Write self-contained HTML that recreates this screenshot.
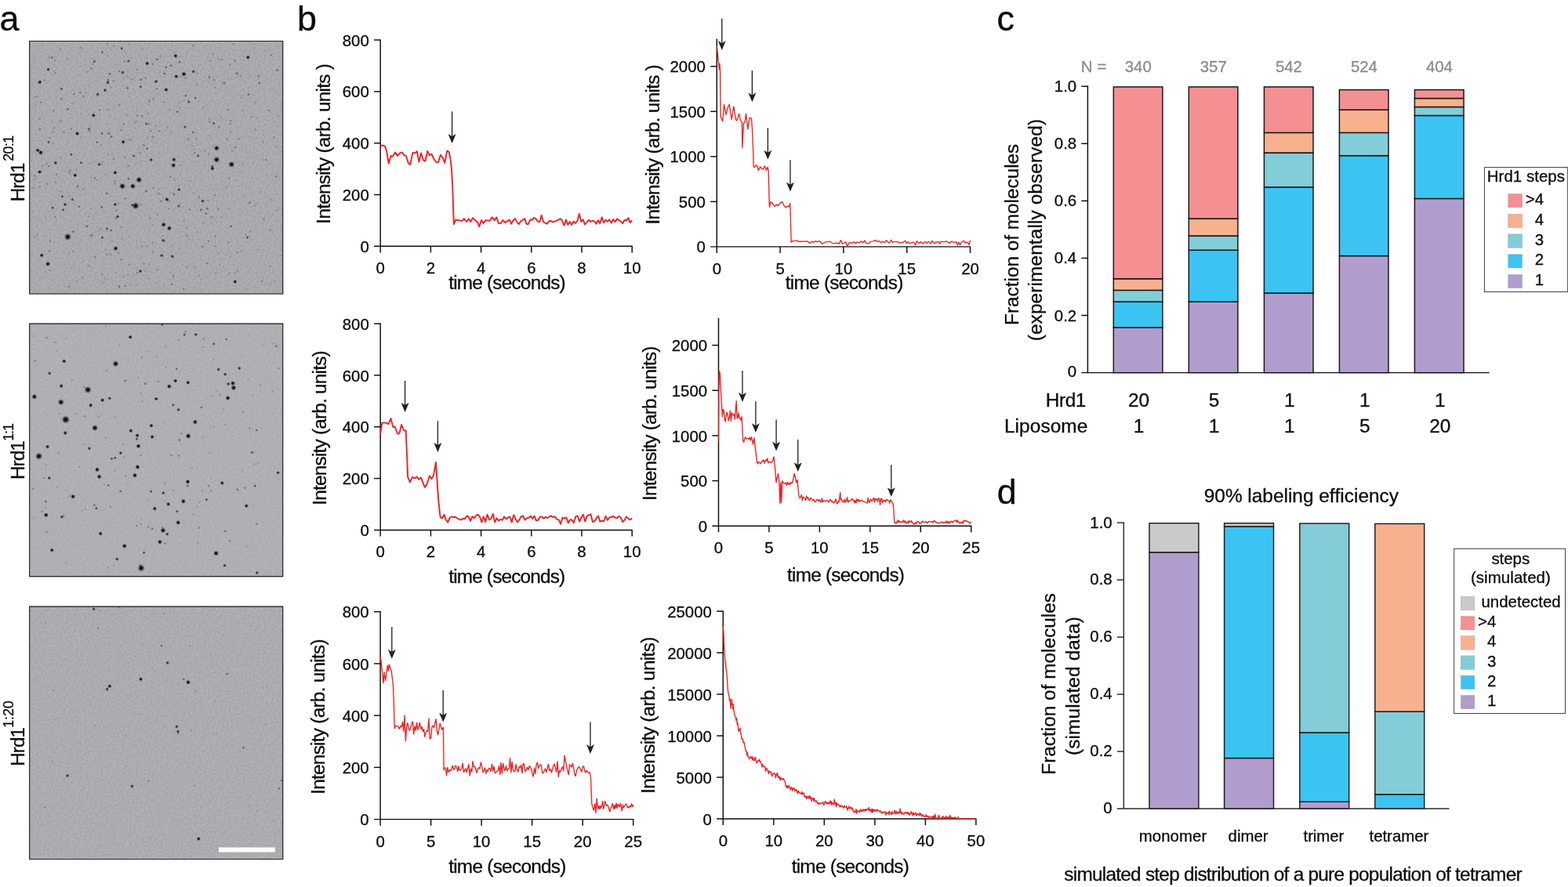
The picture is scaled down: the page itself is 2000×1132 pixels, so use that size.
<!DOCTYPE html>
<html lang="en"><head><meta charset="utf-8"><title>Figure</title>
<style>
html,body{margin:0;padding:0;background:#fff;}
body{width:2000px;height:1132px;overflow:hidden;}
svg{display:block;font-family:"Liberation Sans",sans-serif;font-kerning:none;}
text{white-space:pre;fill:#0c0c0c;stroke:#0c0c0c;stroke-width:0.3px;}
</style></head><body>
<svg width="2000" height="1132" viewBox="0 0 2000 1132">
<rect width="2000" height="1132" fill="#ffffff"/>
<text x="-0.60" y="38.70" font-size="44.9">a</text>
<text x="379.10" y="38.70" font-size="44.9">b</text>
<text x="1271.40" y="38.70" font-size="44.9">c</text>
<text x="1271.70" y="642.80" font-size="44.9">d</text>
<defs>
<filter id="noise" x="0" y="0" width="100%" height="100%" color-interpolation-filters="sRGB">
<feTurbulence type="fractalNoise" baseFrequency="0.38" numOctaves="2" seed="3" result="n"/>
<feColorMatrix in="n" type="matrix" values="0 0 0 0 0  0 0 0 0 0  0 0 0 0 0  0.9 0 0 0 -0.33"/>
<feGaussianBlur stdDeviation="0.7"/>
<feComposite in2="SourceGraphic" operator="in"/>
</filter>
<radialGradient id="dg"><stop offset="0" stop-color="#0e0e12" stop-opacity="1"/><stop offset="0.3" stop-color="#0e0e12" stop-opacity="0.97"/><stop offset="0.55" stop-color="#0e0e12" stop-opacity="0.6"/><stop offset="0.78" stop-color="#0e0e12" stop-opacity="0.18"/><stop offset="1" stop-color="#0e0e12" stop-opacity="0"/></radialGradient>
</defs>
<g id="micrograph1">
<rect x="37.1" y="51.9" width="324.20" height="323.70" fill="#aeafb3"/>
<rect x="37.1" y="51.9" width="324.20" height="323.70" fill="#5a5b60" filter="url(#noise)" opacity="0.24"/>
<clipPath id="cp0"><rect x="37.1" y="51.9" width="324.20" height="323.70"/></clipPath>
<g clip-path="url(#cp0)" fill="url(#dg)">
<circle cx="155.1" cy="61.7" r="2.22" opacity="0.65"/>
<circle cx="130.5" cy="66.6" r="1.99" opacity="0.5"/>
<circle cx="66.3" cy="73.5" r="1.99" opacity="0.5"/>
<circle cx="120.3" cy="78.5" r="2.22" opacity="0.65"/>
<circle cx="163.8" cy="77.9" r="2.22" opacity="0.65"/>
<circle cx="158.6" cy="78.5" r="1.83" opacity="0.35"/>
<circle cx="187.7" cy="80.9" r="2.87" opacity="0.95"/>
<circle cx="194.8" cy="81.8" r="1.83" opacity="0.35"/>
<circle cx="61.5" cy="88.6" r="2.51" opacity="0.8"/>
<circle cx="70.6" cy="93.2" r="1.83" opacity="0.35"/>
<circle cx="116.4" cy="87.3" r="1.83" opacity="0.35"/>
<circle cx="156.5" cy="92.6" r="2.51" opacity="0.8"/>
<circle cx="151.9" cy="91.1" r="1.83" opacity="0.35"/>
<circle cx="139.8" cy="94.2" r="1.99" opacity="0.5"/>
<circle cx="174.8" cy="88.9" r="1.83" opacity="0.35"/>
<circle cx="50.9" cy="104.7" r="2.87" opacity="0.95"/>
<circle cx="137.9" cy="102.1" r="1.99" opacity="0.5"/>
<circle cx="137.5" cy="105.4" r="2.51" opacity="0.8"/>
<circle cx="144.8" cy="103.1" r="1.83" opacity="0.35"/>
<circle cx="179.7" cy="101.7" r="1.99" opacity="0.5"/>
<circle cx="185.8" cy="99.5" r="1.83" opacity="0.35"/>
<circle cx="198.4" cy="104.2" r="2.22" opacity="0.65"/>
<circle cx="78.4" cy="113.5" r="2.22" opacity="0.65"/>
<circle cx="134.0" cy="115.1" r="2.51" opacity="0.8"/>
<circle cx="162.7" cy="112.5" r="1.99" opacity="0.5"/>
<circle cx="179.3" cy="110.8" r="2.22" opacity="0.65"/>
<circle cx="124.6" cy="120.4" r="2.51" opacity="0.8"/>
<circle cx="94.5" cy="120.1" r="1.83" opacity="0.35"/>
<circle cx="102.3" cy="117.8" r="1.83" opacity="0.35"/>
<circle cx="110.0" cy="118.4" r="1.76" opacity="0.26"/>
<circle cx="47.3" cy="122.8" r="1.83" opacity="0.35"/>
<circle cx="52.0" cy="130.6" r="1.83" opacity="0.35"/>
<circle cx="78.1" cy="126.4" r="1.83" opacity="0.35"/>
<circle cx="190.8" cy="129.3" r="1.83" opacity="0.35"/>
<circle cx="195.6" cy="126.4" r="1.83" opacity="0.35"/>
<circle cx="86.4" cy="139.3" r="1.99" opacity="0.5"/>
<circle cx="126.9" cy="140.4" r="1.83" opacity="0.35"/>
<circle cx="119.3" cy="147.2" r="2.87" opacity="0.95"/>
<circle cx="175.1" cy="147.5" r="1.83" opacity="0.35"/>
<circle cx="50.6" cy="151.9" r="1.76" opacity="0.26"/>
<circle cx="186.5" cy="158.0" r="2.22" opacity="0.65"/>
<circle cx="190.1" cy="157.9" r="1.83" opacity="0.35"/>
<circle cx="157.6" cy="158.2" r="1.83" opacity="0.35"/>
<circle cx="50.9" cy="165.1" r="1.83" opacity="0.35"/>
<circle cx="90.7" cy="164.8" r="1.83" opacity="0.35"/>
<circle cx="113.6" cy="164.6" r="2.22" opacity="0.65"/>
<circle cx="114.3" cy="167.2" r="1.83" opacity="0.35"/>
<circle cx="98.5" cy="170.4" r="2.87" opacity="0.95"/>
<circle cx="130.3" cy="170.2" r="1.99" opacity="0.5"/>
<circle cx="138.9" cy="170.4" r="1.99" opacity="0.5"/>
<circle cx="142.2" cy="174.4" r="1.99" opacity="0.5"/>
<circle cx="154.6" cy="165.9" r="1.83" opacity="0.35"/>
<circle cx="62.0" cy="181.4" r="2.22" opacity="0.65"/>
<circle cx="123.7" cy="181.5" r="1.99" opacity="0.5"/>
<circle cx="157.2" cy="181.2" r="2.87" opacity="0.95"/>
<circle cx="166.5" cy="178.4" r="1.83" opacity="0.35"/>
<circle cx="194.4" cy="174.8" r="1.83" opacity="0.35"/>
<circle cx="183.4" cy="185.5" r="1.83" opacity="0.35"/>
<circle cx="187.7" cy="189.7" r="1.99" opacity="0.5"/>
<circle cx="48.2" cy="191.8" r="2.87" opacity="0.95"/>
<circle cx="52.0" cy="194.7" r="3.29"/>
<circle cx="90.7" cy="197.3" r="2.22" opacity="0.65"/>
<circle cx="170.8" cy="199.0" r="2.22" opacity="0.65"/>
<circle cx="192.7" cy="204.0" r="2.51" opacity="0.8"/>
<circle cx="70.9" cy="208.0" r="2.51" opacity="0.8"/>
<circle cx="103.5" cy="207.7" r="2.22" opacity="0.65"/>
<circle cx="126.4" cy="209.8" r="2.51" opacity="0.8"/>
<circle cx="54.5" cy="211.6" r="1.83" opacity="0.35"/>
<circle cx="62.5" cy="211.9" r="1.83" opacity="0.35"/>
<circle cx="144.8" cy="202.7" r="1.83" opacity="0.35"/>
<circle cx="76.8" cy="62.7" r="1.76" opacity="0.26"/>
<circle cx="137.2" cy="55.6" r="1.76" opacity="0.26"/>
<circle cx="181.3" cy="62.3" r="1.76" opacity="0.26"/>
<circle cx="163.7" cy="211.3" r="1.83" opacity="0.35"/>
<circle cx="77.1" cy="200.8" r="1.76" opacity="0.26"/>
<circle cx="224.0" cy="71.3" r="2.87" opacity="0.95"/>
<circle cx="316.3" cy="73.2" r="2.87" opacity="0.95"/>
<circle cx="229.1" cy="79.2" r="1.99" opacity="0.5"/>
<circle cx="217.9" cy="83.8" r="1.99" opacity="0.5"/>
<circle cx="211.9" cy="85.9" r="1.99" opacity="0.5"/>
<circle cx="200.4" cy="76.0" r="1.99" opacity="0.5"/>
<circle cx="246.2" cy="58.4" r="1.83" opacity="0.35"/>
<circle cx="282.7" cy="75.6" r="1.83" opacity="0.35"/>
<circle cx="278.1" cy="74.9" r="1.76" opacity="0.26"/>
<circle cx="271.6" cy="69.2" r="1.76" opacity="0.26"/>
<circle cx="345.7" cy="70.6" r="1.83" opacity="0.35"/>
<circle cx="353.6" cy="89.5" r="1.99" opacity="0.5"/>
<circle cx="234.5" cy="94.5" r="3.29"/>
<circle cx="246.7" cy="91.4" r="2.51" opacity="0.8"/>
<circle cx="224.8" cy="97.5" r="2.87" opacity="0.95"/>
<circle cx="209.7" cy="93.9" r="1.99" opacity="0.5"/>
<circle cx="302.3" cy="93.8" r="1.99" opacity="0.5"/>
<circle cx="329.5" cy="97.1" r="1.83" opacity="0.35"/>
<circle cx="267.4" cy="98.9" r="1.83" opacity="0.35"/>
<circle cx="272.7" cy="101.8" r="1.83" opacity="0.35"/>
<circle cx="286.0" cy="105.7" r="1.99" opacity="0.5"/>
<circle cx="330.9" cy="106.0" r="1.99" opacity="0.5"/>
<circle cx="250.9" cy="106.8" r="1.76" opacity="0.26"/>
<circle cx="199.7" cy="103.8" r="2.22" opacity="0.65"/>
<circle cx="211.9" cy="114.5" r="2.87" opacity="0.95"/>
<circle cx="199.7" cy="113.3" r="1.83" opacity="0.35"/>
<circle cx="236.9" cy="122.0" r="1.99" opacity="0.5"/>
<circle cx="249.4" cy="125.0" r="1.99" opacity="0.5"/>
<circle cx="240.8" cy="130.0" r="2.22" opacity="0.65"/>
<circle cx="317.1" cy="120.4" r="1.99" opacity="0.5"/>
<circle cx="209.0" cy="130.6" r="1.76" opacity="0.26"/>
<circle cx="225.9" cy="142.7" r="1.99" opacity="0.5"/>
<circle cx="216.5" cy="139.6" r="1.76" opacity="0.26"/>
<circle cx="258.8" cy="137.6" r="1.76" opacity="0.26"/>
<circle cx="290.6" cy="139.7" r="1.83" opacity="0.35"/>
<circle cx="309.5" cy="141.0" r="1.76" opacity="0.26"/>
<circle cx="342.8" cy="141.0" r="1.83" opacity="0.35"/>
<circle cx="320.4" cy="149.0" r="1.76" opacity="0.26"/>
<circle cx="267.3" cy="155.5" r="1.83" opacity="0.35"/>
<circle cx="272.6" cy="157.5" r="2.22" opacity="0.65"/>
<circle cx="294.2" cy="153.9" r="1.83" opacity="0.35"/>
<circle cx="235.9" cy="161.9" r="2.22" opacity="0.65"/>
<circle cx="279.1" cy="162.5" r="1.83" opacity="0.35"/>
<circle cx="203.3" cy="167.3" r="1.83" opacity="0.35"/>
<circle cx="246.2" cy="168.9" r="1.99" opacity="0.5"/>
<circle cx="293.5" cy="168.6" r="1.76" opacity="0.26"/>
<circle cx="240.5" cy="177.7" r="1.83" opacity="0.35"/>
<circle cx="250.2" cy="177.2" r="1.76" opacity="0.26"/>
<circle cx="289.2" cy="177.2" r="1.76" opacity="0.26"/>
<circle cx="304.6" cy="177.4" r="1.83" opacity="0.35"/>
<circle cx="335.7" cy="181.5" r="1.76" opacity="0.26"/>
<circle cx="352.8" cy="186.5" r="1.76" opacity="0.26"/>
<circle cx="245.2" cy="186.2" r="1.76" opacity="0.26"/>
<circle cx="276.3" cy="189.1" r="3.78"/>
<circle cx="248.1" cy="195.1" r="1.83" opacity="0.35"/>
<circle cx="252.7" cy="199.0" r="2.22" opacity="0.65"/>
<circle cx="276.3" cy="203.7" r="4.33"/>
<circle cx="221.9" cy="203.7" r="2.87" opacity="0.95"/>
<circle cx="221.2" cy="210.9" r="3.29"/>
<circle cx="295.3" cy="209.8" r="4.33"/>
<circle cx="339.0" cy="204.1" r="1.83" opacity="0.35"/>
<circle cx="309.2" cy="208.7" r="1.76" opacity="0.26"/>
<circle cx="270.6" cy="212.3" r="2.22" opacity="0.65"/>
<circle cx="325.7" cy="165.8" r="1.76" opacity="0.26"/>
<circle cx="299.9" cy="77.8" r="1.76" opacity="0.26"/>
<circle cx="293.5" cy="82.5" r="1.76" opacity="0.26"/>
<circle cx="50.6" cy="219.4" r="2.87" opacity="0.95"/>
<circle cx="89.5" cy="217.1" r="1.83" opacity="0.35"/>
<circle cx="95.7" cy="223.6" r="2.87" opacity="0.95"/>
<circle cx="146.9" cy="220.4" r="2.87" opacity="0.95"/>
<circle cx="177.2" cy="229.5" r="4.33"/>
<circle cx="163.9" cy="228.3" r="1.99" opacity="0.5"/>
<circle cx="156.1" cy="237.6" r="4.33"/>
<circle cx="169.4" cy="237.6" r="3.78"/>
<circle cx="146.6" cy="231.2" r="1.83" opacity="0.35"/>
<circle cx="146.6" cy="234.5" r="1.83" opacity="0.35"/>
<circle cx="72.1" cy="222.6" r="1.83" opacity="0.35"/>
<circle cx="120.7" cy="227.2" r="1.83" opacity="0.35"/>
<circle cx="70.9" cy="232.6" r="1.76" opacity="0.26"/>
<circle cx="99.0" cy="237.9" r="1.99" opacity="0.5"/>
<circle cx="106.4" cy="240.9" r="1.83" opacity="0.35"/>
<circle cx="42.7" cy="240.2" r="1.76" opacity="0.26"/>
<circle cx="186.5" cy="244.3" r="1.99" opacity="0.5"/>
<circle cx="195.9" cy="240.0" r="1.83" opacity="0.35"/>
<circle cx="136.2" cy="246.9" r="1.99" opacity="0.5"/>
<circle cx="79.5" cy="250.8" r="2.22" opacity="0.65"/>
<circle cx="92.4" cy="254.5" r="2.22" opacity="0.65"/>
<circle cx="83.1" cy="260.9" r="2.51" opacity="0.8"/>
<circle cx="67.1" cy="265.1" r="2.22" opacity="0.65"/>
<circle cx="80.6" cy="267.8" r="2.22" opacity="0.65"/>
<circle cx="100.7" cy="263.7" r="1.99" opacity="0.5"/>
<circle cx="129.7" cy="264.4" r="1.99" opacity="0.5"/>
<circle cx="146.9" cy="260.8" r="2.51" opacity="0.8"/>
<circle cx="173.0" cy="262.7" r="4.95"/>
<circle cx="168.7" cy="261.7" r="2.22" opacity="0.65"/>
<circle cx="179.4" cy="260.8" r="1.83" opacity="0.35"/>
<circle cx="148.6" cy="268.8" r="1.83" opacity="0.35"/>
<circle cx="150.1" cy="276.5" r="2.51" opacity="0.8"/>
<circle cx="147.9" cy="278.7" r="1.83" opacity="0.35"/>
<circle cx="70.2" cy="277.0" r="1.83" opacity="0.35"/>
<circle cx="111.0" cy="288.6" r="1.99" opacity="0.5"/>
<circle cx="136.5" cy="292.0" r="2.22" opacity="0.65"/>
<circle cx="141.8" cy="293.9" r="1.99" opacity="0.5"/>
<circle cx="128.2" cy="292.0" r="1.76" opacity="0.26"/>
<circle cx="154.6" cy="289.8" r="1.76" opacity="0.26"/>
<circle cx="93.5" cy="295.6" r="1.99" opacity="0.5"/>
<circle cx="86.4" cy="302.3" r="4.95"/>
<circle cx="116.7" cy="300.4" r="1.99" opacity="0.5"/>
<circle cx="130.5" cy="303.2" r="2.22" opacity="0.65"/>
<circle cx="63.9" cy="308.0" r="1.83" opacity="0.35"/>
<circle cx="147.6" cy="317.0" r="3.29"/>
<circle cx="62.8" cy="320.3" r="1.83" opacity="0.35"/>
<circle cx="53.2" cy="325.8" r="2.87" opacity="0.95"/>
<circle cx="61.0" cy="336.8" r="3.29"/>
<circle cx="121.0" cy="328.3" r="1.83" opacity="0.35"/>
<circle cx="154.3" cy="331.3" r="1.83" opacity="0.35"/>
<circle cx="136.2" cy="324.9" r="1.76" opacity="0.26"/>
<circle cx="179.1" cy="346.1" r="2.51" opacity="0.8"/>
<circle cx="175.1" cy="348.1" r="1.83" opacity="0.35"/>
<circle cx="164.8" cy="337.4" r="1.76" opacity="0.26"/>
<circle cx="183.7" cy="336.6" r="1.76" opacity="0.26"/>
<circle cx="152.2" cy="365.7" r="1.99" opacity="0.5"/>
<circle cx="160.1" cy="365.0" r="1.83" opacity="0.35"/>
<circle cx="88.2" cy="365.7" r="1.83" opacity="0.35"/>
<circle cx="130.7" cy="350.4" r="1.76" opacity="0.26"/>
<circle cx="63.5" cy="345.2" r="1.76" opacity="0.26"/>
<circle cx="194.4" cy="309.9" r="1.76" opacity="0.26"/>
<circle cx="195.1" cy="321.3" r="1.76" opacity="0.26"/>
<circle cx="113.1" cy="339.2" r="1.76" opacity="0.26"/>
<circle cx="271.0" cy="215.1" r="2.87" opacity="0.95"/>
<circle cx="228.3" cy="241.9" r="2.51" opacity="0.8"/>
<circle cx="217.2" cy="225.7" r="1.83" opacity="0.35"/>
<circle cx="292.0" cy="227.2" r="1.83" opacity="0.35"/>
<circle cx="352.1" cy="225.4" r="1.83" opacity="0.35"/>
<circle cx="242.6" cy="231.2" r="1.76" opacity="0.26"/>
<circle cx="222.6" cy="230.0" r="1.76" opacity="0.26"/>
<circle cx="202.6" cy="246.9" r="1.83" opacity="0.35"/>
<circle cx="221.9" cy="247.9" r="1.99" opacity="0.5"/>
<circle cx="212.9" cy="254.5" r="2.87" opacity="0.95"/>
<circle cx="216.2" cy="256.9" r="1.83" opacity="0.35"/>
<circle cx="205.4" cy="256.9" r="1.83" opacity="0.35"/>
<circle cx="254.1" cy="251.5" r="1.83" opacity="0.35"/>
<circle cx="258.4" cy="256.6" r="2.51" opacity="0.8"/>
<circle cx="273.4" cy="249.1" r="1.76" opacity="0.26"/>
<circle cx="318.5" cy="258.7" r="1.99" opacity="0.5"/>
<circle cx="227.9" cy="263.1" r="2.22" opacity="0.65"/>
<circle cx="215.9" cy="266.7" r="1.76" opacity="0.26"/>
<circle cx="241.9" cy="267.4" r="1.83" opacity="0.35"/>
<circle cx="256.2" cy="267.7" r="1.99" opacity="0.5"/>
<circle cx="264.5" cy="266.5" r="1.99" opacity="0.5"/>
<circle cx="278.4" cy="266.7" r="1.83" opacity="0.35"/>
<circle cx="263.0" cy="272.7" r="1.99" opacity="0.5"/>
<circle cx="269.1" cy="277.0" r="1.83" opacity="0.35"/>
<circle cx="282.7" cy="277.0" r="1.76" opacity="0.26"/>
<circle cx="201.1" cy="273.8" r="1.76" opacity="0.26"/>
<circle cx="336.4" cy="279.8" r="1.83" opacity="0.35"/>
<circle cx="353.6" cy="268.4" r="1.76" opacity="0.26"/>
<circle cx="208.7" cy="286.7" r="3.29"/>
<circle cx="215.9" cy="291.3" r="3.29"/>
<circle cx="294.6" cy="288.8" r="1.99" opacity="0.5"/>
<circle cx="234.5" cy="281.5" r="1.76" opacity="0.26"/>
<circle cx="208.3" cy="306.9" r="2.51" opacity="0.8"/>
<circle cx="315.6" cy="303.0" r="2.22" opacity="0.65"/>
<circle cx="313.5" cy="299.9" r="1.76" opacity="0.26"/>
<circle cx="274.8" cy="301.6" r="1.83" opacity="0.35"/>
<circle cx="266.0" cy="307.5" r="1.83" opacity="0.35"/>
<circle cx="291.7" cy="309.5" r="1.83" opacity="0.35"/>
<circle cx="258.4" cy="314.9" r="1.83" opacity="0.35"/>
<circle cx="219.0" cy="314.2" r="1.76" opacity="0.26"/>
<circle cx="206.2" cy="326.1" r="2.51" opacity="0.8"/>
<circle cx="219.9" cy="327.3" r="2.51" opacity="0.8"/>
<circle cx="307.8" cy="319.9" r="1.76" opacity="0.26"/>
<circle cx="302.8" cy="322.8" r="1.76" opacity="0.26"/>
<circle cx="264.5" cy="336.1" r="1.83" opacity="0.35"/>
<circle cx="237.6" cy="340.7" r="1.76" opacity="0.26"/>
<circle cx="221.2" cy="352.4" r="1.83" opacity="0.35"/>
<circle cx="299.9" cy="359.5" r="2.87" opacity="0.95"/>
<circle cx="219.0" cy="362.8" r="1.83" opacity="0.35"/>
<circle cx="234.1" cy="369.0" r="1.83" opacity="0.35"/>
<circle cx="292.0" cy="348.5" r="1.76" opacity="0.26"/>
<circle cx="253.4" cy="352.1" r="1.76" opacity="0.26"/>
<circle cx="329.2" cy="318.5" r="1.76" opacity="0.26"/>
<circle cx="319.2" cy="295.6" r="1.76" opacity="0.26"/>
<circle cx="345.0" cy="294.1" r="1.76" opacity="0.26"/>
<circle cx="314.6" cy="369.3" r="1.76" opacity="0.26"/>
<circle cx="238.3" cy="290.6" r="2.08" opacity="0.24"/>
<circle cx="275.5" cy="347.9" r="1.62" opacity="0.16"/>
<circle cx="340.3" cy="261.1" r="2.14" opacity="0.1"/>
<circle cx="189.4" cy="133.2" r="1.93" opacity="0.18"/>
<circle cx="44.3" cy="123.8" r="1.77" opacity="0.24"/>
<circle cx="283.8" cy="105.6" r="2.08" opacity="0.1"/>
<circle cx="236.6" cy="95.2" r="1.6" opacity="0.23"/>
<circle cx="106.7" cy="123.4" r="2.19" opacity="0.23"/>
<circle cx="132.2" cy="360.4" r="1.92" opacity="0.2"/>
<circle cx="105.3" cy="353.8" r="2.01" opacity="0.24"/>
<circle cx="324.5" cy="149.8" r="1.82" opacity="0.11"/>
<circle cx="86.5" cy="75.6" r="1.78" opacity="0.18"/>
<circle cx="41.2" cy="270.3" r="1.8" opacity="0.13"/>
<circle cx="300.6" cy="207.6" r="1.79" opacity="0.16"/>
<circle cx="264.3" cy="73.0" r="2.19" opacity="0.08"/>
<circle cx="278.7" cy="323.3" r="1.61" opacity="0.21"/>
<circle cx="156.6" cy="238.7" r="1.61" opacity="0.09"/>
<circle cx="97.7" cy="358.4" r="1.72" opacity="0.21"/>
<circle cx="335.9" cy="354.2" r="1.81" opacity="0.14"/>
<circle cx="207.1" cy="301.3" r="1.66" opacity="0.21"/>
<circle cx="293.8" cy="328.0" r="1.62" opacity="0.24"/>
<circle cx="69.1" cy="163.2" r="1.97" opacity="0.24"/>
<circle cx="148.3" cy="348.5" r="1.93" opacity="0.13"/>
<circle cx="140.9" cy="111.3" r="1.65" opacity="0.11"/>
<circle cx="259.4" cy="371.6" r="1.7" opacity="0.09"/>
<circle cx="354.1" cy="224.4" r="1.84" opacity="0.12"/>
<circle cx="229.1" cy="317.4" r="1.87" opacity="0.15"/>
<circle cx="57.8" cy="345.9" r="1.62" opacity="0.16"/>
<circle cx="306.9" cy="96.4" r="2.04" opacity="0.24"/>
<circle cx="240.7" cy="305.3" r="1.66" opacity="0.15"/>
<circle cx="87.6" cy="323.3" r="1.78" opacity="0.16"/>
<circle cx="358.1" cy="325.7" r="2.19" opacity="0.16"/>
<circle cx="195.4" cy="286.7" r="1.89" opacity="0.13"/>
<circle cx="168.6" cy="101.4" r="1.83" opacity="0.25"/>
<circle cx="345.5" cy="254.1" r="1.9" opacity="0.14"/>
<circle cx="68.5" cy="141.4" r="2.07" opacity="0.23"/>
<circle cx="155.1" cy="304.6" r="2.06" opacity="0.2"/>
<circle cx="251.4" cy="296.2" r="1.82" opacity="0.2"/>
<circle cx="129.5" cy="209.2" r="2.06" opacity="0.2"/>
<circle cx="133.6" cy="355.3" r="1.99" opacity="0.18"/>
<circle cx="43.8" cy="228.7" r="1.75" opacity="0.19"/>
<circle cx="187.4" cy="314.4" r="1.99" opacity="0.22"/>
<circle cx="150.8" cy="259.5" r="2.04" opacity="0.22"/>
<circle cx="151.5" cy="322.7" r="2.12" opacity="0.2"/>
<circle cx="350.7" cy="358.8" r="1.91" opacity="0.17"/>
<circle cx="93.0" cy="320.7" r="2.16" opacity="0.16"/>
<circle cx="260.1" cy="283.5" r="2.04" opacity="0.11"/>
<circle cx="288.4" cy="239.4" r="2.0" opacity="0.15"/>
<circle cx="238.6" cy="301.0" r="1.98" opacity="0.2"/>
<circle cx="48.9" cy="105.7" r="1.86" opacity="0.19"/>
<circle cx="109.8" cy="272.8" r="1.98" opacity="0.09"/>
<circle cx="190.2" cy="126.8" r="1.63" opacity="0.1"/>
<circle cx="141.1" cy="112.6" r="1.72" opacity="0.09"/>
<circle cx="188.2" cy="175.7" r="1.97" opacity="0.18"/>
<circle cx="115.8" cy="341.8" r="1.6" opacity="0.15"/>
<circle cx="128.7" cy="185.2" r="1.67" opacity="0.22"/>
<circle cx="159.1" cy="66.4" r="1.97" opacity="0.1"/>
<circle cx="213.6" cy="162.7" r="1.95" opacity="0.24"/>
<circle cx="300.6" cy="188.0" r="2.09" opacity="0.19"/>
<circle cx="157.7" cy="100.0" r="1.96" opacity="0.18"/>
<circle cx="344.7" cy="362.4" r="1.97" opacity="0.14"/>
<circle cx="324.4" cy="55.2" r="1.66" opacity="0.18"/>
<circle cx="235.8" cy="99.6" r="1.98" opacity="0.23"/>
<circle cx="159.7" cy="192.0" r="1.74" opacity="0.13"/>
<circle cx="349.5" cy="175.6" r="2.18" opacity="0.24"/>
<circle cx="229.7" cy="137.4" r="2.19" opacity="0.16"/>
<circle cx="172.3" cy="156.3" r="2.19" opacity="0.16"/>
<circle cx="131.2" cy="206.4" r="1.67" opacity="0.19"/>
<circle cx="181.2" cy="148.0" r="2.07" opacity="0.22"/>
<circle cx="44.3" cy="224.1" r="1.76" opacity="0.24"/>
<circle cx="288.9" cy="132.9" r="1.76" opacity="0.11"/>
<circle cx="354.7" cy="148.0" r="1.96" opacity="0.16"/>
<circle cx="245.3" cy="246.7" r="2.05" opacity="0.1"/>
<circle cx="282.1" cy="150.4" r="1.92" opacity="0.14"/>
<circle cx="134.5" cy="223.2" r="1.88" opacity="0.14"/>
<circle cx="277.2" cy="242.6" r="1.62" opacity="0.12"/>
<circle cx="185.1" cy="346.1" r="2.13" opacity="0.17"/>
<circle cx="44.7" cy="302.2" r="1.86" opacity="0.18"/>
<circle cx="265.4" cy="255.8" r="1.89" opacity="0.23"/>
<circle cx="162.8" cy="179.4" r="2.11" opacity="0.11"/>
<circle cx="134.4" cy="318.6" r="1.64" opacity="0.22"/>
<circle cx="261.1" cy="192.4" r="1.77" opacity="0.21"/>
<circle cx="329.9" cy="100.2" r="1.89" opacity="0.17"/>
<circle cx="198.5" cy="160.0" r="1.69" opacity="0.18"/>
<circle cx="298.4" cy="76.6" r="1.74" opacity="0.22"/>
<circle cx="292.0" cy="265.7" r="1.62" opacity="0.2"/>
<circle cx="351.5" cy="372.1" r="2.02" opacity="0.09"/>
<circle cx="308.0" cy="124.6" r="1.99" opacity="0.24"/>
<circle cx="266.8" cy="97.7" r="1.78" opacity="0.24"/>
<circle cx="87.7" cy="248.9" r="1.85" opacity="0.11"/>
<circle cx="238.1" cy="68.7" r="1.66" opacity="0.14"/>
<circle cx="63.0" cy="73.2" r="1.95" opacity="0.21"/>
<circle cx="319.6" cy="97.6" r="1.86" opacity="0.13"/>
<circle cx="231.1" cy="210.4" r="2.16" opacity="0.14"/>
<circle cx="57.8" cy="276.4" r="1.69" opacity="0.19"/>
<circle cx="201.1" cy="344.1" r="1.93" opacity="0.19"/>
<circle cx="123.9" cy="230.2" r="1.75" opacity="0.21"/>
<circle cx="204.6" cy="97.4" r="1.74" opacity="0.14"/>
<circle cx="274.5" cy="111.9" r="2.03" opacity="0.19"/>
<circle cx="67.2" cy="267.1" r="1.65" opacity="0.1"/>
<circle cx="229.1" cy="130.7" r="2.13" opacity="0.16"/>
<circle cx="143.0" cy="307.9" r="1.62" opacity="0.2"/>
<circle cx="57.2" cy="102.8" r="2.17" opacity="0.2"/>
<circle cx="111.1" cy="91.8" r="2.18" opacity="0.19"/>
<circle cx="301.2" cy="99.3" r="1.97" opacity="0.14"/>
<circle cx="114.9" cy="160.8" r="1.97" opacity="0.14"/>
<circle cx="162.8" cy="98.2" r="2.1" opacity="0.19"/>
<circle cx="296.1" cy="192.6" r="2.11" opacity="0.17"/>
<circle cx="228.7" cy="237.0" r="2.04" opacity="0.15"/>
<circle cx="71.0" cy="65.4" r="1.72" opacity="0.09"/>
<circle cx="323.1" cy="207.7" r="2.06" opacity="0.08"/>
<circle cx="189.7" cy="337.6" r="1.97" opacity="0.15"/>
<circle cx="188.2" cy="86.6" r="1.69" opacity="0.11"/>
<circle cx="159.3" cy="177.4" r="2.13" opacity="0.11"/>
<circle cx="120.9" cy="143.0" r="1.7" opacity="0.13"/>
<circle cx="114.9" cy="208.0" r="1.62" opacity="0.24"/>
<circle cx="157.5" cy="352.9" r="2.01" opacity="0.19"/>
<circle cx="190.2" cy="355.3" r="1.67" opacity="0.19"/>
<circle cx="132.7" cy="269.2" r="2.04" opacity="0.11"/>
<circle cx="104.1" cy="62.8" r="1.74" opacity="0.09"/>
<circle cx="167.7" cy="364.2" r="1.82" opacity="0.13"/>
<circle cx="189.0" cy="144.9" r="2.04" opacity="0.2"/>
<circle cx="92.1" cy="131.3" r="2.0" opacity="0.24"/>
<circle cx="245.6" cy="191.7" r="2.19" opacity="0.08"/>
<circle cx="59.5" cy="302.5" r="1.85" opacity="0.09"/>
<circle cx="214.6" cy="369.3" r="1.91" opacity="0.14"/>
<circle cx="70.0" cy="77.5" r="2.14" opacity="0.16"/>
<circle cx="337.9" cy="72.0" r="1.75" opacity="0.09"/>
<circle cx="166.5" cy="74.0" r="1.75" opacity="0.15"/>
<circle cx="137.5" cy="71.2" r="1.62" opacity="0.25"/>
<circle cx="97.2" cy="216.5" r="1.84" opacity="0.17"/>
<circle cx="66.9" cy="154.6" r="1.66" opacity="0.17"/>
<circle cx="333.3" cy="245.0" r="2.11" opacity="0.12"/>
<circle cx="45.6" cy="226.3" r="1.89" opacity="0.18"/>
<circle cx="159.9" cy="253.5" r="2.04" opacity="0.24"/>
<circle cx="138.0" cy="197.6" r="2.1" opacity="0.12"/>
<circle cx="76.9" cy="153.9" r="1.65" opacity="0.21"/>
<circle cx="300.8" cy="154.3" r="1.68" opacity="0.09"/>
<circle cx="118.0" cy="81.7" r="1.86" opacity="0.18"/>
<circle cx="118.2" cy="74.4" r="2.02" opacity="0.09"/>
<circle cx="103.7" cy="145.8" r="1.82" opacity="0.1"/>
<circle cx="173.9" cy="154.6" r="2.05" opacity="0.17"/>
<circle cx="325.2" cy="262.7" r="2.06" opacity="0.18"/>
<circle cx="180.8" cy="314.4" r="1.99" opacity="0.24"/>
<circle cx="271.8" cy="277.7" r="1.76" opacity="0.22"/>
<circle cx="161.8" cy="96.3" r="1.64" opacity="0.11"/>
<circle cx="123.7" cy="269.6" r="1.77" opacity="0.09"/>
<circle cx="283.1" cy="231.9" r="1.62" opacity="0.09"/>
<circle cx="81.5" cy="168.4" r="2.12" opacity="0.24"/>
<circle cx="234.8" cy="128.3" r="1.86" opacity="0.14"/>
<circle cx="145.2" cy="58.9" r="1.95" opacity="0.22"/>
<circle cx="271.4" cy="85.2" r="1.92" opacity="0.11"/>
<circle cx="265.8" cy="196.7" r="2.16" opacity="0.22"/>
<circle cx="77.7" cy="155.6" r="2.15" opacity="0.16"/>
<circle cx="178.2" cy="195.1" r="2.06" opacity="0.24"/>
<circle cx="209.6" cy="363.0" r="1.96" opacity="0.1"/>
<circle cx="299.2" cy="188.2" r="1.63" opacity="0.25"/>
<circle cx="50.6" cy="238.2" r="1.89" opacity="0.23"/>
<circle cx="165.1" cy="123.4" r="1.77" opacity="0.11"/>
<circle cx="219.1" cy="168.3" r="2.05" opacity="0.12"/>
<circle cx="152.0" cy="133.8" r="2.19" opacity="0.22"/>
<circle cx="310.5" cy="251.3" r="1.84" opacity="0.1"/>
<circle cx="304.7" cy="210.6" r="1.62" opacity="0.11"/>
<circle cx="71.5" cy="282.9" r="2.14" opacity="0.11"/>
<circle cx="293.7" cy="157.9" r="2.01" opacity="0.23"/>
<circle cx="238.4" cy="309.2" r="1.83" opacity="0.08"/>
<circle cx="202.9" cy="241.3" r="1.71" opacity="0.15"/>
<circle cx="141.0" cy="63.5" r="1.79" opacity="0.15"/>
<circle cx="191.6" cy="278.4" r="1.84" opacity="0.25"/>
<circle cx="299.6" cy="348.4" r="2.02" opacity="0.19"/>
<circle cx="210.9" cy="308.6" r="1.82" opacity="0.18"/>
<circle cx="256.3" cy="220.8" r="1.77" opacity="0.09"/>
<circle cx="67.9" cy="168.0" r="1.95" opacity="0.21"/>
<circle cx="267.4" cy="152.4" r="2.16" opacity="0.13"/>
<circle cx="268.0" cy="77.8" r="2.05" opacity="0.19"/>
<circle cx="344.6" cy="339.9" r="2.01" opacity="0.22"/>
<circle cx="275.1" cy="249.0" r="1.73" opacity="0.17"/>
<circle cx="325.2" cy="130.9" r="2.18" opacity="0.17"/>
<circle cx="165.3" cy="55.8" r="1.83" opacity="0.11"/>
<circle cx="247.9" cy="340.7" r="2.15" opacity="0.18"/>
<circle cx="163.1" cy="89.5" r="2.01" opacity="0.17"/>
<circle cx="267.7" cy="173.7" r="2.13" opacity="0.12"/>
<circle cx="137.3" cy="139.9" r="1.97" opacity="0.23"/>
<circle cx="93.4" cy="255.9" r="2.06" opacity="0.12"/>
<circle cx="60.0" cy="234.7" r="2.1" opacity="0.23"/>
<circle cx="271.8" cy="187.3" r="1.86" opacity="0.17"/>
<circle cx="328.0" cy="150.9" r="1.77" opacity="0.18"/>
<circle cx="347.7" cy="114.4" r="1.62" opacity="0.1"/>
<circle cx="219.1" cy="246.6" r="1.71" opacity="0.11"/>
<circle cx="229.3" cy="260.2" r="2.01" opacity="0.2"/>
<circle cx="59.6" cy="208.9" r="2.1" opacity="0.24"/>
<circle cx="141.4" cy="325.1" r="1.99" opacity="0.24"/>
<circle cx="113.0" cy="276.3" r="2.1" opacity="0.16"/>
<circle cx="72.2" cy="116.4" r="1.69" opacity="0.1"/>
<circle cx="88.5" cy="250.5" r="1.66" opacity="0.21"/>
<circle cx="274.4" cy="314.3" r="2.08" opacity="0.2"/>
<circle cx="334.1" cy="358.9" r="1.98" opacity="0.24"/>
<circle cx="73.0" cy="87.6" r="1.64" opacity="0.12"/>
<circle cx="159.2" cy="200.6" r="2.01" opacity="0.21"/>
<circle cx="66.8" cy="183.0" r="1.93" opacity="0.14"/>
<circle cx="77.5" cy="244.6" r="1.82" opacity="0.2"/>
<circle cx="197.8" cy="360.7" r="2.17" opacity="0.09"/>
<circle cx="281.9" cy="284.0" r="1.78" opacity="0.1"/>
<circle cx="192.5" cy="167.4" r="2.04" opacity="0.24"/>
<circle cx="161.7" cy="147.2" r="1.9" opacity="0.2"/>
<circle cx="291.2" cy="237.8" r="1.78" opacity="0.14"/>
<circle cx="309.9" cy="219.9" r="1.63" opacity="0.15"/>
<circle cx="115.8" cy="266.6" r="1.64" opacity="0.13"/>
<circle cx="70.7" cy="206.6" r="2.19" opacity="0.17"/>
<circle cx="163.0" cy="351.6" r="1.66" opacity="0.14"/>
<circle cx="298.1" cy="56.5" r="2.06" opacity="0.14"/>
<circle cx="45.3" cy="134.6" r="1.87" opacity="0.15"/>
<circle cx="204.5" cy="71.8" r="1.73" opacity="0.25"/>
<circle cx="180.9" cy="204.8" r="1.65" opacity="0.13"/>
<circle cx="343.9" cy="273.2" r="1.9" opacity="0.09"/>
<circle cx="165.1" cy="302.2" r="1.86" opacity="0.18"/>
<circle cx="327.2" cy="259.9" r="1.98" opacity="0.09"/>
<circle cx="47.7" cy="299.4" r="1.85" opacity="0.23"/>
<circle cx="302.8" cy="345.7" r="1.83" opacity="0.25"/>
<circle cx="280.7" cy="338.2" r="1.69" opacity="0.21"/>
<circle cx="174.4" cy="363.7" r="2.2" opacity="0.12"/>
<circle cx="174.2" cy="141.0" r="1.88" opacity="0.13"/>
<circle cx="252.2" cy="94.1" r="1.7" opacity="0.16"/>
<circle cx="63.6" cy="176.0" r="2.14" opacity="0.23"/>
<circle cx="102.6" cy="60.8" r="2.1" opacity="0.24"/>
<circle cx="230.7" cy="98.2" r="1.74" opacity="0.24"/>
<circle cx="338.4" cy="64.8" r="1.71" opacity="0.15"/>
<circle cx="125.0" cy="294.4" r="1.82" opacity="0.21"/>
<circle cx="88.5" cy="219.6" r="2.18" opacity="0.2"/>
<circle cx="68.8" cy="90.2" r="1.99" opacity="0.14"/>
</g>
<path d="M37.10 51.90H361.30V375.60H37.10Z M38.25 53.05V374.50H360.15V53.05Z" fill="#231f20" fill-rule="evenodd"/>
</g>
<g id="micrograph2">
<rect x="37.1" y="412.6" width="324.20" height="323.60" fill="#b2b3b7"/>
<rect x="37.1" y="412.6" width="324.20" height="323.60" fill="#5a5b60" filter="url(#noise)" opacity="0.14"/>
<clipPath id="cp1"><rect x="37.1" y="412.6" width="324.20" height="323.60"/></clipPath>
<g clip-path="url(#cp1)" fill="url(#dg)">
<circle cx="166.2" cy="430.2" r="2.87" opacity="0.95"/>
<circle cx="59.5" cy="430.9" r="1.83" opacity="0.35"/>
<circle cx="81.7" cy="460.9" r="2.87" opacity="0.95"/>
<circle cx="44.9" cy="460.5" r="1.83" opacity="0.35"/>
<circle cx="147.5" cy="464.2" r="4.33"/>
<circle cx="63.2" cy="476.4" r="2.51" opacity="0.8"/>
<circle cx="159.8" cy="486.0" r="1.99" opacity="0.5"/>
<circle cx="185.3" cy="489.7" r="1.99" opacity="0.5"/>
<circle cx="91.7" cy="485.3" r="1.76" opacity="0.26"/>
<circle cx="78.2" cy="492.6" r="2.87" opacity="0.95"/>
<circle cx="112.1" cy="497.4" r="4.95"/>
<circle cx="107.1" cy="494.1" r="1.83" opacity="0.35"/>
<circle cx="43.9" cy="506.3" r="3.78"/>
<circle cx="77.8" cy="513.2" r="4.33"/>
<circle cx="130.7" cy="510.7" r="2.87" opacity="0.95"/>
<circle cx="139.8" cy="508.3" r="2.51" opacity="0.8"/>
<circle cx="115.7" cy="517.2" r="2.87" opacity="0.95"/>
<circle cx="198.4" cy="508.9" r="2.22" opacity="0.65"/>
<circle cx="181.5" cy="512.2" r="1.76" opacity="0.26"/>
<circle cx="83.8" cy="535.5" r="5.63"/>
<circle cx="108.3" cy="531.1" r="1.83" opacity="0.35"/>
<circle cx="96.4" cy="527.9" r="1.76" opacity="0.26"/>
<circle cx="126.4" cy="531.2" r="1.76" opacity="0.26"/>
<circle cx="121.1" cy="546.1" r="4.33"/>
<circle cx="83.2" cy="552.5" r="2.87" opacity="0.95"/>
<circle cx="166.9" cy="549.7" r="2.87" opacity="0.95"/>
<circle cx="193.0" cy="543.2" r="2.87" opacity="0.95"/>
<circle cx="175.1" cy="555.7" r="2.87" opacity="0.95"/>
<circle cx="174.4" cy="560.1" r="2.22" opacity="0.65"/>
<circle cx="194.1" cy="557.5" r="2.87" opacity="0.95"/>
<circle cx="176.5" cy="569.3" r="3.29"/>
<circle cx="60.6" cy="570.1" r="2.87" opacity="0.95"/>
<circle cx="114.0" cy="572.3" r="2.51" opacity="0.8"/>
<circle cx="106.4" cy="567.1" r="1.76" opacity="0.26"/>
<circle cx="180.8" cy="455.9" r="1.76" opacity="0.26"/>
<circle cx="71.3" cy="437.3" r="1.73" opacity="0.2"/>
<circle cx="72.1" cy="447.8" r="1.73" opacity="0.2"/>
<circle cx="146.9" cy="532.5" r="1.73" opacity="0.2"/>
<circle cx="75.6" cy="528.2" r="1.73" opacity="0.2"/>
<circle cx="206.9" cy="414.4" r="2.22" opacity="0.65"/>
<circle cx="235.2" cy="427.0" r="2.22" opacity="0.65"/>
<circle cx="236.9" cy="423.4" r="1.83" opacity="0.35"/>
<circle cx="249.7" cy="426.9" r="2.51" opacity="0.8"/>
<circle cx="259.4" cy="432.3" r="1.83" opacity="0.35"/>
<circle cx="272.8" cy="438.8" r="2.22" opacity="0.65"/>
<circle cx="288.7" cy="433.0" r="1.99" opacity="0.5"/>
<circle cx="227.6" cy="434.0" r="1.76" opacity="0.26"/>
<circle cx="352.4" cy="441.9" r="1.99" opacity="0.5"/>
<circle cx="348.5" cy="438.5" r="1.73" opacity="0.2"/>
<circle cx="225.2" cy="470.7" r="1.99" opacity="0.5"/>
<circle cx="278.7" cy="471.5" r="2.51" opacity="0.8"/>
<circle cx="305.3" cy="470.0" r="2.51" opacity="0.8"/>
<circle cx="287.2" cy="477.7" r="2.51" opacity="0.8"/>
<circle cx="356.0" cy="470.0" r="1.76" opacity="0.26"/>
<circle cx="223.8" cy="486.0" r="2.87" opacity="0.95"/>
<circle cx="239.8" cy="488.3" r="2.87" opacity="0.95"/>
<circle cx="215.9" cy="493.1" r="3.29"/>
<circle cx="201.9" cy="486.7" r="1.83" opacity="0.35"/>
<circle cx="291.3" cy="490.0" r="2.51" opacity="0.8"/>
<circle cx="297.0" cy="489.1" r="3.29"/>
<circle cx="298.0" cy="494.9" r="3.78"/>
<circle cx="332.1" cy="491.0" r="1.76" opacity="0.26"/>
<circle cx="316.6" cy="483.8" r="1.73" opacity="0.2"/>
<circle cx="290.6" cy="507.9" r="3.29"/>
<circle cx="280.3" cy="503.9" r="1.76" opacity="0.26"/>
<circle cx="199.7" cy="509.2" r="2.51" opacity="0.8"/>
<circle cx="220.9" cy="516.8" r="2.22" opacity="0.65"/>
<circle cx="227.6" cy="522.8" r="2.51" opacity="0.8"/>
<circle cx="257.0" cy="520.0" r="1.99" opacity="0.5"/>
<circle cx="309.9" cy="526.1" r="1.83" opacity="0.35"/>
<circle cx="248.9" cy="538.5" r="3.29"/>
<circle cx="318.5" cy="546.8" r="1.83" opacity="0.35"/>
<circle cx="327.4" cy="549.0" r="1.99" opacity="0.5"/>
<circle cx="240.1" cy="556.5" r="3.78"/>
<circle cx="231.6" cy="553.2" r="1.83" opacity="0.35"/>
<circle cx="228.8" cy="561.5" r="1.99" opacity="0.5"/>
<circle cx="287.0" cy="542.2" r="1.73" opacity="0.2"/>
<circle cx="272.7" cy="544.9" r="1.73" opacity="0.2"/>
<circle cx="200.1" cy="454.9" r="1.76" opacity="0.26"/>
<circle cx="322.1" cy="504.6" r="1.73" opacity="0.2"/>
<circle cx="211.9" cy="469.1" r="1.73" opacity="0.2"/>
<circle cx="270.6" cy="505.3" r="1.73" opacity="0.2"/>
<circle cx="259.1" cy="443.1" r="1.73" opacity="0.2"/>
<circle cx="49.6" cy="582.2" r="4.95"/>
<circle cx="153.9" cy="578.1" r="2.51" opacity="0.8"/>
<circle cx="146.8" cy="584.4" r="2.22" opacity="0.65"/>
<circle cx="142.5" cy="585.3" r="2.22" opacity="0.65"/>
<circle cx="179.4" cy="581.0" r="1.83" opacity="0.35"/>
<circle cx="175.5" cy="596.0" r="3.29"/>
<circle cx="124.0" cy="599.3" r="3.29"/>
<circle cx="126.6" cy="608.3" r="3.29"/>
<circle cx="172.0" cy="606.6" r="3.29"/>
<circle cx="160.1" cy="607.6" r="1.83" opacity="0.35"/>
<circle cx="62.8" cy="610.1" r="2.51" opacity="0.8"/>
<circle cx="56.3" cy="610.1" r="1.83" opacity="0.35"/>
<circle cx="58.9" cy="593.6" r="1.76" opacity="0.26"/>
<circle cx="101.0" cy="595.8" r="1.76" opacity="0.26"/>
<circle cx="138.3" cy="619.4" r="1.99" opacity="0.5"/>
<circle cx="132.9" cy="617.9" r="1.76" opacity="0.26"/>
<circle cx="153.6" cy="626.9" r="1.99" opacity="0.5"/>
<circle cx="192.6" cy="627.2" r="2.22" opacity="0.65"/>
<circle cx="42.4" cy="623.7" r="1.83" opacity="0.35"/>
<circle cx="72.8" cy="621.1" r="1.73" opacity="0.2"/>
<circle cx="93.1" cy="633.7" r="3.29"/>
<circle cx="88.2" cy="633.4" r="1.76" opacity="0.26"/>
<circle cx="58.2" cy="640.1" r="1.99" opacity="0.5"/>
<circle cx="120.4" cy="644.6" r="1.99" opacity="0.5"/>
<circle cx="122.9" cy="648.8" r="2.22" opacity="0.65"/>
<circle cx="140.8" cy="646.7" r="1.83" opacity="0.35"/>
<circle cx="197.3" cy="649.1" r="2.87" opacity="0.95"/>
<circle cx="53.5" cy="652.9" r="1.83" opacity="0.35"/>
<circle cx="58.8" cy="657.3" r="3.29"/>
<circle cx="78.9" cy="659.7" r="2.51" opacity="0.8"/>
<circle cx="81.1" cy="658.3" r="1.83" opacity="0.35"/>
<circle cx="59.6" cy="678.8" r="1.83" opacity="0.35"/>
<circle cx="128.2" cy="681.0" r="2.87" opacity="0.95"/>
<circle cx="174.4" cy="670.9" r="1.83" opacity="0.35"/>
<circle cx="179.8" cy="669.0" r="1.76" opacity="0.26"/>
<circle cx="189.4" cy="672.3" r="1.83" opacity="0.35"/>
<circle cx="194.1" cy="674.7" r="1.99" opacity="0.5"/>
<circle cx="180.5" cy="661.6" r="1.73" opacity="0.2"/>
<circle cx="158.8" cy="696.8" r="3.29"/>
<circle cx="66.2" cy="702.1" r="2.87" opacity="0.95"/>
<circle cx="183.7" cy="705.2" r="2.22" opacity="0.65"/>
<circle cx="149.3" cy="713.5" r="2.51" opacity="0.8"/>
<circle cx="180.1" cy="725.0" r="4.95"/>
<circle cx="178.7" cy="721.7" r="1.99" opacity="0.5"/>
<circle cx="84.2" cy="718.5" r="1.73" opacity="0.2"/>
<circle cx="145.0" cy="721.7" r="1.73" opacity="0.2"/>
<circle cx="137.9" cy="724.5" r="1.73" opacity="0.2"/>
<circle cx="146.5" cy="600.5" r="1.76" opacity="0.26"/>
<circle cx="188.4" cy="637.7" r="1.73" opacity="0.2"/>
<circle cx="108.6" cy="649.4" r="1.73" opacity="0.2"/>
<circle cx="104.3" cy="651.6" r="1.73" opacity="0.2"/>
<circle cx="58.2" cy="647.7" r="1.73" opacity="0.2"/>
<circle cx="321.4" cy="577.4" r="2.22" opacity="0.65"/>
<circle cx="218.7" cy="581.2" r="1.83" opacity="0.35"/>
<circle cx="228.1" cy="581.6" r="1.83" opacity="0.35"/>
<circle cx="267.4" cy="577.6" r="1.73" opacity="0.2"/>
<circle cx="244.8" cy="597.6" r="1.76" opacity="0.26"/>
<circle cx="354.7" cy="603.3" r="2.51" opacity="0.8"/>
<circle cx="239.5" cy="614.8" r="3.29"/>
<circle cx="239.5" cy="620.1" r="1.99" opacity="0.5"/>
<circle cx="283.3" cy="616.5" r="2.87" opacity="0.95"/>
<circle cx="266.0" cy="620.4" r="1.83" opacity="0.35"/>
<circle cx="325.2" cy="620.1" r="2.22" opacity="0.65"/>
<circle cx="312.5" cy="622.7" r="1.83" opacity="0.35"/>
<circle cx="302.8" cy="624.8" r="1.99" opacity="0.5"/>
<circle cx="269.1" cy="626.2" r="1.83" opacity="0.35"/>
<circle cx="258.0" cy="626.2" r="1.76" opacity="0.26"/>
<circle cx="221.5" cy="625.9" r="1.76" opacity="0.26"/>
<circle cx="210.2" cy="616.5" r="1.76" opacity="0.26"/>
<circle cx="208.3" cy="629.1" r="2.51" opacity="0.8"/>
<circle cx="233.8" cy="639.7" r="3.29"/>
<circle cx="263.4" cy="637.5" r="2.22" opacity="0.65"/>
<circle cx="254.5" cy="640.8" r="1.76" opacity="0.26"/>
<circle cx="214.7" cy="643.4" r="2.87" opacity="0.95"/>
<circle cx="314.3" cy="645.6" r="2.87" opacity="0.95"/>
<circle cx="225.9" cy="652.7" r="2.22" opacity="0.65"/>
<circle cx="251.7" cy="646.6" r="1.73" opacity="0.2"/>
<circle cx="246.9" cy="656.9" r="1.73" opacity="0.2"/>
<circle cx="227.3" cy="666.9" r="3.29"/>
<circle cx="327.4" cy="668.5" r="1.83" opacity="0.35"/>
<circle cx="207.9" cy="676.9" r="3.78"/>
<circle cx="207.3" cy="673.3" r="1.83" opacity="0.35"/>
<circle cx="213.3" cy="681.6" r="2.51" opacity="0.8"/>
<circle cx="253.8" cy="673.6" r="1.83" opacity="0.35"/>
<circle cx="287.4" cy="678.0" r="1.99" opacity="0.5"/>
<circle cx="203.9" cy="691.6" r="3.29"/>
<circle cx="210.9" cy="693.8" r="1.83" opacity="0.35"/>
<circle cx="293.2" cy="690.3" r="1.83" opacity="0.35"/>
<circle cx="252.0" cy="692.8" r="1.76" opacity="0.26"/>
<circle cx="275.6" cy="706.1" r="3.78"/>
<circle cx="286.6" cy="721.7" r="2.51" opacity="0.8"/>
<circle cx="327.8" cy="731.0" r="2.51" opacity="0.8"/>
<circle cx="314.6" cy="697.4" r="1.73" opacity="0.2"/>
<circle cx="329.9" cy="590.7" r="1.73" opacity="0.2"/>
<circle cx="324.2" cy="592.9" r="1.73" opacity="0.2"/>
<circle cx="157.4" cy="567.3" r="1.95" opacity="0.2"/>
<circle cx="116.8" cy="596.2" r="1.76" opacity="0.14"/>
<circle cx="272.8" cy="458.0" r="1.89" opacity="0.16"/>
<circle cx="42.7" cy="660.5" r="1.85" opacity="0.13"/>
<circle cx="234.4" cy="667.4" r="1.63" opacity="0.13"/>
<circle cx="52.3" cy="538.0" r="1.81" opacity="0.06"/>
<circle cx="134.8" cy="558.5" r="1.99" opacity="0.19"/>
<circle cx="158.0" cy="583.9" r="2.03" opacity="0.19"/>
<circle cx="342.3" cy="729.4" r="1.78" opacity="0.08"/>
<circle cx="336.6" cy="440.2" r="1.87" opacity="0.16"/>
<circle cx="208.3" cy="539.1" r="2.15" opacity="0.1"/>
<circle cx="215.7" cy="679.1" r="1.68" opacity="0.11"/>
<circle cx="197.4" cy="595.3" r="1.72" opacity="0.12"/>
<circle cx="59.1" cy="443.5" r="1.81" opacity="0.08"/>
<circle cx="348.0" cy="499.2" r="1.77" opacity="0.17"/>
<circle cx="275.9" cy="498.8" r="2.1" opacity="0.15"/>
<circle cx="163.8" cy="615.3" r="1.75" opacity="0.1"/>
<circle cx="319.0" cy="554.9" r="2.14" opacity="0.08"/>
<circle cx="83.8" cy="432.1" r="2.04" opacity="0.14"/>
<circle cx="43.2" cy="429.3" r="2.09" opacity="0.13"/>
<circle cx="317.4" cy="428.2" r="1.95" opacity="0.08"/>
<circle cx="269.6" cy="609.8" r="1.97" opacity="0.09"/>
<circle cx="342.1" cy="450.9" r="1.64" opacity="0.16"/>
<circle cx="69.6" cy="436.8" r="1.88" opacity="0.15"/>
<circle cx="324.0" cy="644.5" r="1.64" opacity="0.15"/>
<circle cx="308.5" cy="453.9" r="2.05" opacity="0.1"/>
<circle cx="135.1" cy="416.1" r="2.05" opacity="0.13"/>
<circle cx="327.1" cy="563.5" r="1.69" opacity="0.09"/>
<circle cx="123.9" cy="716.3" r="1.72" opacity="0.07"/>
<circle cx="152.3" cy="440.7" r="1.86" opacity="0.15"/>
<circle cx="247.1" cy="471.1" r="1.68" opacity="0.13"/>
<circle cx="258.8" cy="557.6" r="1.94" opacity="0.19"/>
<circle cx="86.3" cy="500.7" r="1.9" opacity="0.14"/>
<circle cx="326.5" cy="592.0" r="2.0" opacity="0.12"/>
<circle cx="289.7" cy="681.1" r="1.78" opacity="0.08"/>
<circle cx="122.6" cy="529.2" r="2.13" opacity="0.1"/>
<circle cx="240.4" cy="619.1" r="2.17" opacity="0.08"/>
<circle cx="285.1" cy="522.4" r="1.66" opacity="0.15"/>
<circle cx="308.8" cy="600.6" r="1.63" opacity="0.2"/>
<circle cx="162.3" cy="617.7" r="2.03" opacity="0.1"/>
<circle cx="170.0" cy="520.2" r="1.66" opacity="0.07"/>
<circle cx="268.2" cy="546.0" r="2.12" opacity="0.07"/>
<circle cx="136.0" cy="472.8" r="2.17" opacity="0.17"/>
<circle cx="325.3" cy="576.4" r="1.66" opacity="0.12"/>
<circle cx="112.1" cy="424.1" r="1.94" opacity="0.1"/>
<circle cx="74.4" cy="578.1" r="2.16" opacity="0.19"/>
<circle cx="188.4" cy="448.2" r="2.06" opacity="0.08"/>
<circle cx="211.1" cy="442.2" r="2.19" opacity="0.14"/>
<circle cx="179.3" cy="502.0" r="1.93" opacity="0.2"/>
<circle cx="176.2" cy="482.1" r="1.91" opacity="0.19"/>
</g>
<path d="M37.10 412.60H361.30V736.20H37.10Z M38.25 413.75V735.10H360.15V413.75Z" fill="#231f20" fill-rule="evenodd"/>
</g>
<g id="micrograph3">
<rect x="37.1" y="773.6" width="324.20" height="323.40" fill="#b0b1b5"/>
<rect x="37.1" y="773.6" width="324.20" height="323.40" fill="#5a5b60" filter="url(#noise)" opacity="0.2"/>
<clipPath id="cp2"><rect x="37.1" y="773.6" width="324.20" height="323.40"/></clipPath>
<g clip-path="url(#cp2)" fill="url(#dg)">
<circle cx="119.6" cy="777.2" r="2.51" opacity="0.8"/>
<circle cx="125.3" cy="801.5" r="1.83" opacity="0.35"/>
<circle cx="206.0" cy="824.2" r="1.99" opacity="0.5"/>
<circle cx="242.3" cy="824.2" r="1.76" opacity="0.26"/>
<circle cx="213.6" cy="845.9" r="2.51" opacity="0.8"/>
<circle cx="179.6" cy="866.7" r="2.87" opacity="0.95"/>
<circle cx="234.3" cy="866.7" r="1.99" opacity="0.5"/>
<circle cx="240.0" cy="870.7" r="3.29"/>
<circle cx="289.7" cy="859.9" r="1.99" opacity="0.5"/>
<circle cx="139.9" cy="875.7" r="2.87" opacity="0.95"/>
<circle cx="136.6" cy="879.6" r="2.51" opacity="0.8"/>
<circle cx="67.8" cy="880.9" r="1.76" opacity="0.26"/>
<circle cx="249.5" cy="882.5" r="1.76" opacity="0.26"/>
<circle cx="225.4" cy="927.3" r="2.51" opacity="0.8"/>
<circle cx="227.0" cy="933.6" r="2.51" opacity="0.8"/>
<circle cx="58.1" cy="794.6" r="1.73" opacity="0.2"/>
<circle cx="209.5" cy="782.9" r="1.73" opacity="0.2"/>
<circle cx="152.0" cy="774.8" r="1.83" opacity="0.35"/>
<circle cx="86.1" cy="989.9" r="2.51" opacity="0.8"/>
<circle cx="168.5" cy="1003.4" r="2.51" opacity="0.8"/>
<circle cx="189.3" cy="996.9" r="1.83" opacity="0.35"/>
<circle cx="310.5" cy="954.1" r="1.99" opacity="0.5"/>
<circle cx="355.8" cy="1006.3" r="1.99" opacity="0.5"/>
<circle cx="359.4" cy="996.3" r="1.99" opacity="0.5"/>
<circle cx="57.2" cy="1030.3" r="1.83" opacity="0.35"/>
<circle cx="253.3" cy="1070.5" r="2.87" opacity="0.95"/>
<circle cx="328.3" cy="1035.3" r="1.76" opacity="0.26"/>
<circle cx="248.4" cy="1002.7" r="1.73" opacity="0.2"/>
<circle cx="317.7" cy="1028.3" r="1.73" opacity="0.2"/>
<circle cx="67.0" cy="972.0" r="1.73" opacity="0.2"/>
<circle cx="160.1" cy="938.4" r="1.73" opacity="0.2"/>
<circle cx="227.3" cy="936.5" r="1.83" opacity="0.35"/>
<circle cx="161.6" cy="977.8" r="2.15" opacity="0.08"/>
<circle cx="298.1" cy="944.5" r="1.68" opacity="0.06"/>
<circle cx="338.9" cy="924.5" r="1.87" opacity="0.14"/>
<circle cx="222.7" cy="935.4" r="1.77" opacity="0.12"/>
<circle cx="121.6" cy="925.9" r="2.06" opacity="0.11"/>
<circle cx="82.8" cy="840.9" r="2.02" opacity="0.12"/>
<circle cx="72.8" cy="1093.2" r="1.68" opacity="0.07"/>
<circle cx="68.7" cy="918.3" r="1.97" opacity="0.14"/>
<circle cx="92.0" cy="998.4" r="1.66" opacity="0.11"/>
<circle cx="120.2" cy="889.7" r="1.63" opacity="0.12"/>
<circle cx="79.0" cy="1019.1" r="1.8" opacity="0.11"/>
<circle cx="243.5" cy="931.7" r="2.12" opacity="0.14"/>
<circle cx="129.9" cy="882.5" r="2.13" opacity="0.06"/>
<circle cx="173.8" cy="908.2" r="2.19" opacity="0.06"/>
<circle cx="248.5" cy="1016.9" r="2.04" opacity="0.05"/>
<circle cx="340.4" cy="875.8" r="2.11" opacity="0.12"/>
<circle cx="174.0" cy="1042.5" r="2.01" opacity="0.08"/>
<circle cx="273.0" cy="936.9" r="2.03" opacity="0.11"/>
<circle cx="293.4" cy="827.2" r="1.9" opacity="0.05"/>
<circle cx="291.7" cy="1021.5" r="2.1" opacity="0.05"/>
<circle cx="210.4" cy="928.5" r="1.67" opacity="0.07"/>
<circle cx="350.1" cy="1047.2" r="1.74" opacity="0.13"/>
<circle cx="247.2" cy="898.8" r="1.99" opacity="0.07"/>
<circle cx="127.2" cy="779.8" r="1.99" opacity="0.11"/>
<circle cx="276.7" cy="936.5" r="1.86" opacity="0.08"/>
<circle cx="274.1" cy="894.9" r="1.96" opacity="0.13"/>
<circle cx="181.6" cy="994.4" r="1.64" opacity="0.08"/>
<circle cx="307.6" cy="823.4" r="1.63" opacity="0.05"/>
<circle cx="283.9" cy="810.3" r="1.87" opacity="0.09"/>
<circle cx="295.6" cy="927.9" r="1.91" opacity="0.05"/>
</g>
<path d="M37.10 773.60H361.30V1097.00H37.10Z M38.25 774.75V1095.90H360.15V774.75Z" fill="#231f20" fill-rule="evenodd"/>
</g>
<rect x="279" y="1081.5" width="72" height="6" fill="#ffffff"/>
<text transform="translate(30.90 257.30) rotate(-90)" font-size="24.4" letter-spacing="-1.031">Hrd1</text>
<text transform="translate(16.60 205.66) rotate(-90)" font-size="18.0" letter-spacing="-0.733">20:1</text>
<text transform="translate(30.90 612.10) rotate(-90)" font-size="24.4" letter-spacing="-0.965">Hrd1</text>
<text transform="translate(16.60 562.87) rotate(-90)" font-size="18.0" letter-spacing="-1.036">1:1</text>
<text transform="translate(30.90 977.80) rotate(-90)" font-size="24.4" letter-spacing="-0.965">Hrd1</text>
<text transform="translate(16.60 928.67) rotate(-90)" font-size="18.0" letter-spacing="-0.220">1:20</text>
<g id="b1">
<line x1="485.20" y1="50.40" x2="485.20" y2="322.40" stroke="#0c0c0c" stroke-width="1.45"/>
<line x1="477.10" y1="314.30" x2="806.80" y2="314.30" stroke="#0c0c0c" stroke-width="1.45"/>
<text x="485.20" y="349.20" font-size="20.4" text-anchor="middle">0</text>
<line x1="549.40" y1="314.30" x2="549.40" y2="322.40" stroke="#0c0c0c" stroke-width="1.45"/>
<text x="549.40" y="349.20" font-size="20.4" text-anchor="middle">2</text>
<line x1="613.60" y1="314.30" x2="613.60" y2="322.40" stroke="#0c0c0c" stroke-width="1.45"/>
<text x="613.60" y="349.20" font-size="20.4" text-anchor="middle">4</text>
<line x1="677.80" y1="314.30" x2="677.80" y2="322.40" stroke="#0c0c0c" stroke-width="1.45"/>
<text x="677.80" y="349.20" font-size="20.4" text-anchor="middle">6</text>
<line x1="742.00" y1="314.30" x2="742.00" y2="322.40" stroke="#0c0c0c" stroke-width="1.45"/>
<text x="742.00" y="349.20" font-size="20.4" text-anchor="middle">8</text>
<line x1="806.20" y1="314.30" x2="806.20" y2="322.40" stroke="#0c0c0c" stroke-width="1.45"/>
<text x="806.20" y="349.20" font-size="20.4" text-anchor="middle">10</text>
<text x="470.80" y="321.90" font-size="20.4" text-anchor="end">0</text>
<line x1="477.10" y1="248.48" x2="485.20" y2="248.48" stroke="#0c0c0c" stroke-width="1.45"/>
<text x="470.80" y="256.08" font-size="20.4" text-anchor="end">200</text>
<line x1="477.10" y1="182.65" x2="485.20" y2="182.65" stroke="#0c0c0c" stroke-width="1.45"/>
<text x="470.80" y="190.25" font-size="20.4" text-anchor="end">400</text>
<line x1="477.10" y1="116.83" x2="485.20" y2="116.83" stroke="#0c0c0c" stroke-width="1.45"/>
<text x="470.80" y="124.43" font-size="20.4" text-anchor="end">600</text>
<line x1="477.10" y1="51.00" x2="485.20" y2="51.00" stroke="#0c0c0c" stroke-width="1.45"/>
<text x="470.80" y="58.60" font-size="20.4" text-anchor="end">800</text>
<text x="572.23" y="369.10" font-size="24.4" letter-spacing="-0.809">time (seconds)</text>
<text transform="translate(420.60 285.65) rotate(-90)" font-size="24.4" letter-spacing="-0.749">Intensity (arb. units )</text>
<polyline points="485.2,186.6 488.0,185.3 491.1,186.6 493.0,192.1 495.8,208.8 498.5,198.9 501.0,199.6 504.1,194.4 507.2,198.9 510.3,195.2 512.8,194.4 515.9,198.3 518.1,198.9 520.8,208.2 523.3,210.1 526.4,194.9 529.5,195.2 531.9,193.1 534.4,206.7 537.1,195.2 540.0,204.5 542.4,205.7 545.3,192.8 548.0,198.3 550.5,196.5 553.6,203.3 556.7,207.0 559.1,207.2 561.8,197.7 564.7,201.4 567.2,208.0 570.3,192.4 572.7,194.0 574.6,203.3 575.8,213.2 577.1,234.2 578.3,271.3 578.9,286.1 581.4,280.5 584.5,280.9 587.6,281.8 589.4,281.8 591.9,278.9 595.0,283.0 597.8,279.3 600.2,283.0 603.0,278.1 606.1,281.2 609.2,283.6 611.3,289.2 614.1,280.9 616.6,284.9 619.5,281.2 622.2,281.4 624.7,281.8 627.7,277.2 630.8,281.2 633.3,277.2 636.0,285.1 638.9,284.9 641.3,280.9 644.4,284.0 646.9,282.4 650.0,280.5 652.2,285.7 654.7,280.9 657.1,279.1 659.5,283.6 661.9,286.0 664.3,282.3 666.7,280.7 669.1,278.9 671.5,285.8 673.9,286.0 676.3,280.1 678.7,280.8 681.1,277.7 683.5,279.3 685.9,282.6 688.3,283.1 690.7,274.7 693.1,283.2 695.5,284.6 698.0,285.7 700.4,282.1 702.8,281.9 705.2,283.4 707.6,282.6 710.0,281.6 712.4,280.4 714.8,279.2 717.2,281.8 719.6,287.8 722.0,280.4 724.4,286.7 726.8,283.0 729.2,286.9 731.6,282.5 734.0,284.9 736.4,282.0 738.8,272.8 741.3,282.8 743.7,280.1 746.1,286.6 748.5,283.5 750.9,280.7 753.3,283.0 755.7,281.6 758.1,282.4 760.5,285.7 762.9,281.1 765.3,285.2 767.7,277.2 770.1,284.3 772.5,280.8 774.9,282.8 777.3,280.0 779.7,284.6 782.1,279.9 784.6,283.3 787.0,279.2 789.4,281.1 791.8,282.5 794.2,285.3 796.6,280.7 799.0,281.6 801.4,278.1 803.8,284.1 806.2,281.4" fill="none" stroke="#ed2224" stroke-width="1.9" stroke-linejoin="round"/>
<path d="M576.60 142.30 V176.90" stroke="#1c1c1c" stroke-width="1.3" fill="none"/>
<path d="M576.60 182.90 L571.60 171.00 L576.60 174.10 L581.60 171.00 Z" fill="#231f20"/>
</g>
<g id="b2">
<line x1="914.30" y1="49.60" x2="914.30" y2="322.95" stroke="#0c0c0c" stroke-width="1.45"/>
<line x1="906.20" y1="314.85" x2="1238.10" y2="314.85" stroke="#0c0c0c" stroke-width="1.45"/>
<text x="914.30" y="349.75" font-size="20.4" text-anchor="middle">0</text>
<line x1="995.10" y1="314.85" x2="995.10" y2="322.95" stroke="#0c0c0c" stroke-width="1.45"/>
<text x="995.10" y="349.75" font-size="20.4" text-anchor="middle">5</text>
<line x1="1075.90" y1="314.85" x2="1075.90" y2="322.95" stroke="#0c0c0c" stroke-width="1.45"/>
<text x="1075.90" y="349.75" font-size="20.4" text-anchor="middle">10</text>
<line x1="1156.70" y1="314.85" x2="1156.70" y2="322.95" stroke="#0c0c0c" stroke-width="1.45"/>
<text x="1156.70" y="349.75" font-size="20.4" text-anchor="middle">15</text>
<line x1="1237.50" y1="314.85" x2="1237.50" y2="322.95" stroke="#0c0c0c" stroke-width="1.45"/>
<text x="1237.50" y="349.75" font-size="20.4" text-anchor="middle">20</text>
<text x="899.90" y="322.45" font-size="20.4" text-anchor="end">0</text>
<line x1="906.20" y1="257.31" x2="914.30" y2="257.31" stroke="#0c0c0c" stroke-width="1.45"/>
<text x="899.90" y="264.91" font-size="20.4" text-anchor="end">500</text>
<line x1="906.20" y1="199.78" x2="914.30" y2="199.78" stroke="#0c0c0c" stroke-width="1.45"/>
<text x="899.90" y="207.38" font-size="20.4" text-anchor="end">1000</text>
<line x1="906.20" y1="142.24" x2="914.30" y2="142.24" stroke="#0c0c0c" stroke-width="1.45"/>
<text x="899.90" y="149.84" font-size="20.4" text-anchor="end">1500</text>
<line x1="906.20" y1="84.70" x2="914.30" y2="84.70" stroke="#0c0c0c" stroke-width="1.45"/>
<text x="899.90" y="92.30" font-size="20.4" text-anchor="end">2000</text>
<text x="1001.63" y="368.90" font-size="24.4" letter-spacing="-0.717">time (seconds)</text>
<text transform="translate(841.40 286.55) rotate(-90)" font-size="24.4" letter-spacing="-0.758">Intensity (arb. units )</text>
<polyline points="914.3,58.3 916.7,80.8 917.4,88.2 918.0,81.4 918.6,91.9 919.2,148.8 921.7,155.0 923.5,133.3 926.0,146.3 927.9,138.3 930.3,133.3 933.2,152.5 935.9,135.8 938.6,153.1 940.0,153.8 942.7,145.3 944.8,153.8 946.4,155.9 946.9,188.8 948.5,157.0 950.1,155.9 951.5,145.3 954.0,164.9 955.9,150.6 957.5,150.1 958.6,151.7 959.6,166.5 960.7,193.0 961.2,212.1 962.3,213.8 963.2,212.2 965.3,210.6 967.4,217.5 969.5,212.7 971.7,215.4 973.8,215.9 975.4,211.7 977.5,217.5 979.1,213.3 980.1,217.0 980.7,237.1 981.2,259.4 981.7,264.2 982.8,257.8 984.9,258.9 988.1,263.6 990.2,261.0 991.8,262.6 994.5,259.9 997.6,257.3 999.8,262.0 1002.4,264.7 1004.5,263.1 1006.7,263.6 1007.7,259.4 1008.3,274.2 1008.8,295.4 1009.3,309.2 1010.9,307.6 1013.0,307.6 1016.2,306.9 1018.3,308.2 1023.6,308.2 1030.0,308.0 1032.6,310.3 1035.3,308.2 1037.4,309.2 1040.6,307.6 1042.2,308.7 1044.8,307.6 1049.1,311.3 1052.3,309.2 1055.4,308.7 1058.6,308.2 1060.7,309.8 1063.9,310.8 1067.1,309.8 1070.3,311.3 1072.4,306.6 1074.5,311.3 1076.6,310.3 1078.8,308.7 1080.9,314.5 1083.5,309.2 1086.2,310.3 1090.0,308.7 1091.5,310.9 1093.1,308.8 1094.7,309.5 1096.3,309.7 1098.0,307.9 1099.6,309.0 1101.2,309.5 1102.8,306.9 1104.4,309.8 1106.1,310.8 1107.7,310.9 1109.3,309.8 1110.9,308.3 1112.6,308.1 1114.2,307.7 1115.8,306.8 1117.4,307.0 1119.0,308.4 1120.7,307.5 1122.3,308.3 1123.9,309.9 1125.5,308.1 1127.2,309.1 1128.8,309.4 1130.4,306.6 1132.0,308.2 1133.7,309.8 1135.3,309.3 1136.9,306.2 1138.5,309.5 1140.1,308.3 1141.8,308.4 1143.4,308.6 1145.0,308.5 1146.6,309.9 1148.3,309.8 1149.9,309.5 1151.5,309.7 1153.1,308.2 1154.7,307.3 1156.4,310.4 1158.0,308.6 1159.6,310.6 1161.2,310.2 1162.9,309.6 1164.5,309.2 1166.1,309.9 1167.7,312.7 1169.4,307.6 1171.0,309.7 1172.6,310.2 1174.2,308.5 1175.8,310.1 1177.5,311.2 1179.1,308.7 1180.7,308.8 1182.3,310.4 1184.0,308.3 1185.6,308.9 1187.2,310.9 1188.8,307.2 1190.4,309.1 1192.1,310.9 1193.7,308.8 1195.3,309.3 1196.9,308.2 1198.6,311.2 1200.2,308.1 1201.8,308.3 1203.4,308.6 1205.0,308.7 1206.7,307.8 1208.3,308.6 1209.9,309.3 1211.5,310.6 1213.2,308.1 1214.8,308.3 1216.4,309.1 1218.0,309.3 1219.7,308.6 1221.3,312.8 1222.9,309.1 1224.5,312.8 1226.1,309.3 1227.8,308.2 1229.4,307.1 1231.0,310.2 1232.6,309.0 1234.3,309.7 1235.9,312.5 1237.5,306.8" fill="none" stroke="#ed2224" stroke-width="1.35" stroke-linejoin="round"/>
<path d="M920.80 23.80 V58.00" stroke="#1c1c1c" stroke-width="1.3" fill="none"/>
<path d="M920.80 64.00 L915.80 52.10 L920.80 55.20 L925.80 52.10 Z" fill="#231f20"/>
<path d="M959.40 90.10 V124.20" stroke="#1c1c1c" stroke-width="1.3" fill="none"/>
<path d="M959.40 130.20 L954.40 118.30 L959.40 121.40 L964.40 118.30 Z" fill="#231f20"/>
<path d="M979.40 163.30 V197.60" stroke="#1c1c1c" stroke-width="1.3" fill="none"/>
<path d="M979.40 203.60 L974.40 191.70 L979.40 194.80 L984.40 191.70 Z" fill="#231f20"/>
<path d="M1008.00 204.20 V238.50" stroke="#1c1c1c" stroke-width="1.3" fill="none"/>
<path d="M1008.00 244.50 L1003.00 232.60 L1008.00 235.70 L1013.00 232.60 Z" fill="#231f20"/>
</g>
<g id="b3">
<line x1="485.20" y1="412.50" x2="485.20" y2="684.50" stroke="#0c0c0c" stroke-width="1.45"/>
<line x1="477.10" y1="676.40" x2="806.80" y2="676.40" stroke="#0c0c0c" stroke-width="1.45"/>
<text x="485.20" y="711.30" font-size="20.4" text-anchor="middle">0</text>
<line x1="549.40" y1="676.40" x2="549.40" y2="684.50" stroke="#0c0c0c" stroke-width="1.45"/>
<text x="549.40" y="711.30" font-size="20.4" text-anchor="middle">2</text>
<line x1="613.60" y1="676.40" x2="613.60" y2="684.50" stroke="#0c0c0c" stroke-width="1.45"/>
<text x="613.60" y="711.30" font-size="20.4" text-anchor="middle">4</text>
<line x1="677.80" y1="676.40" x2="677.80" y2="684.50" stroke="#0c0c0c" stroke-width="1.45"/>
<text x="677.80" y="711.30" font-size="20.4" text-anchor="middle">6</text>
<line x1="742.00" y1="676.40" x2="742.00" y2="684.50" stroke="#0c0c0c" stroke-width="1.45"/>
<text x="742.00" y="711.30" font-size="20.4" text-anchor="middle">8</text>
<line x1="806.20" y1="676.40" x2="806.20" y2="684.50" stroke="#0c0c0c" stroke-width="1.45"/>
<text x="806.20" y="711.30" font-size="20.4" text-anchor="middle">10</text>
<text x="470.80" y="684.00" font-size="20.4" text-anchor="end">0</text>
<line x1="477.10" y1="610.58" x2="485.20" y2="610.58" stroke="#0c0c0c" stroke-width="1.45"/>
<text x="470.80" y="618.18" font-size="20.4" text-anchor="end">200</text>
<line x1="477.10" y1="544.75" x2="485.20" y2="544.75" stroke="#0c0c0c" stroke-width="1.45"/>
<text x="470.80" y="552.35" font-size="20.4" text-anchor="end">400</text>
<line x1="477.10" y1="478.93" x2="485.20" y2="478.93" stroke="#0c0c0c" stroke-width="1.45"/>
<text x="470.80" y="486.53" font-size="20.4" text-anchor="end">600</text>
<line x1="477.10" y1="413.10" x2="485.20" y2="413.10" stroke="#0c0c0c" stroke-width="1.45"/>
<text x="470.80" y="420.70" font-size="20.4" text-anchor="end">800</text>
<text x="572.23" y="744.20" font-size="24.4" letter-spacing="-0.840">time (seconds)</text>
<text transform="translate(415.50 644.65) rotate(-90)" font-size="24.4" letter-spacing="-0.800">Intensity (arb. units)</text>
<polyline points="485.2,553.5 487.4,539.6 492.4,539.6 495.5,541.2 498.5,534.0 501.3,545.1 503.7,544.5 507.0,553.5 509.4,553.2 512.1,542.0 515.2,549.5 517.7,549.5 520.2,608.8 523.0,615.4 526.0,608.8 528.8,610.4 531.7,608.6 534.2,611.9 536.9,609.4 541.8,621.8 544.3,618.7 548.0,607.3 550.5,611.3 552.9,606.9 556.0,589.9 559.1,636.6 561.0,655.2 561.8,660.1 564.1,661.5 566.5,656.8 568.9,663.6 571.3,666.6 573.7,660.5 576.1,659.4 578.5,660.1 580.9,659.7 583.3,661.5 585.7,662.9 588.1,663.4 590.5,661.8 592.9,662.3 595.3,658.4 597.7,659.3 600.1,664.9 602.4,659.1 604.8,661.3 607.2,657.9 609.6,656.7 612.0,659.6 614.4,666.5 616.8,659.3 619.2,665.9 621.6,656.6 624.0,663.2 626.4,661.8 628.8,655.8 631.2,666.6 633.6,661.2 636.0,664.5 638.4,662.9 640.8,663.7 643.2,659.3 645.6,662.3 648.0,660.4 650.4,659.5 652.8,666.5 655.2,657.2 657.6,662.2 660.0,666.4 662.4,663.4 664.8,658.9 667.2,658.5 669.6,663.6 672.0,661.2 674.4,660.8 676.8,658.4 679.2,662.0 681.6,658.6 683.9,664.3 686.3,663.8 688.7,659.6 691.1,659.4 693.5,661.8 695.9,659.8 698.3,661.0 700.7,659.3 703.1,658.2 705.5,660.1 707.9,659.2 710.3,662.9 712.7,663.4 715.1,668.8 717.5,660.5 719.9,661.7 722.3,660.2 724.7,667.4 727.1,663.3 729.5,663.5 731.9,667.3 734.3,659.1 736.7,658.2 739.1,665.7 741.5,660.5 743.9,656.7 746.3,665.6 748.7,658.9 751.1,657.1 753.5,656.3 755.9,666.1 758.3,665.2 760.7,661.4 763.1,658.4 765.4,665.8 767.8,664.3 770.2,665.4 772.6,658.7 775.0,663.8 777.4,660.3 779.8,660.1 782.2,658.6 784.6,660.8 787.0,661.1 789.4,658.6 791.8,660.7 794.2,666.0 796.6,663.8 799.0,659.4 801.4,661.8 803.8,663.3 806.2,661.6" fill="none" stroke="#ed2224" stroke-width="1.9" stroke-linejoin="round"/>
<path d="M516.60 486.00 V519.90" stroke="#1c1c1c" stroke-width="1.3" fill="none"/>
<path d="M516.60 525.90 L511.60 514.00 L516.60 517.10 L521.60 514.00 Z" fill="#231f20"/>
<path d="M558.40 537.30 V570.90" stroke="#1c1c1c" stroke-width="1.3" fill="none"/>
<path d="M558.40 576.90 L553.40 565.00 L558.40 568.10 L563.40 565.00 Z" fill="#231f20"/>
</g>
<g id="b4">
<line x1="916.50" y1="405.90" x2="916.50" y2="679.30" stroke="#0c0c0c" stroke-width="1.45"/>
<line x1="908.40" y1="671.20" x2="1239.30" y2="671.20" stroke="#0c0c0c" stroke-width="1.45"/>
<text x="916.50" y="706.10" font-size="20.4" text-anchor="middle">0</text>
<line x1="980.94" y1="671.20" x2="980.94" y2="679.30" stroke="#0c0c0c" stroke-width="1.45"/>
<text x="980.94" y="706.10" font-size="20.4" text-anchor="middle">5</text>
<line x1="1045.38" y1="671.20" x2="1045.38" y2="679.30" stroke="#0c0c0c" stroke-width="1.45"/>
<text x="1045.38" y="706.10" font-size="20.4" text-anchor="middle">10</text>
<line x1="1109.82" y1="671.20" x2="1109.82" y2="679.30" stroke="#0c0c0c" stroke-width="1.45"/>
<text x="1109.82" y="706.10" font-size="20.4" text-anchor="middle">15</text>
<line x1="1174.26" y1="671.20" x2="1174.26" y2="679.30" stroke="#0c0c0c" stroke-width="1.45"/>
<text x="1174.26" y="706.10" font-size="20.4" text-anchor="middle">20</text>
<line x1="1238.70" y1="671.20" x2="1238.70" y2="679.30" stroke="#0c0c0c" stroke-width="1.45"/>
<text x="1238.70" y="706.10" font-size="20.4" text-anchor="middle">25</text>
<text x="902.10" y="678.80" font-size="20.4" text-anchor="end">0</text>
<line x1="908.40" y1="613.55" x2="916.50" y2="613.55" stroke="#0c0c0c" stroke-width="1.45"/>
<text x="902.10" y="621.15" font-size="20.4" text-anchor="end">500</text>
<line x1="908.40" y1="555.90" x2="916.50" y2="555.90" stroke="#0c0c0c" stroke-width="1.45"/>
<text x="902.10" y="563.50" font-size="20.4" text-anchor="end">1000</text>
<line x1="908.40" y1="498.25" x2="916.50" y2="498.25" stroke="#0c0c0c" stroke-width="1.45"/>
<text x="902.10" y="505.85" font-size="20.4" text-anchor="end">1500</text>
<line x1="908.40" y1="440.60" x2="916.50" y2="440.60" stroke="#0c0c0c" stroke-width="1.45"/>
<text x="902.10" y="448.20" font-size="20.4" text-anchor="end">2000</text>
<text x="1004.03" y="741.80" font-size="24.4" letter-spacing="-0.771">time (seconds)</text>
<text transform="translate(836.50 638.95) rotate(-90)" font-size="24.4" letter-spacing="-0.800">Intensity (arb. units)</text>
<polyline points="916.5,563.7 916.9,498.2 917.4,473.8 918.4,476.3 919.7,504.0 921.4,531.7 922.3,522.6 923.3,524.0 924.3,535.1 925.3,538.0 926.3,529.8 927.3,526.2 928.3,530.6 929.3,537.0 930.4,532.8 931.4,524.2 932.4,537.5 933.4,526.6 934.4,529.3 935.4,529.8 936.4,528.7 937.4,535.1 939.2,511.6 940.2,534.0 941.0,533.2 942.0,526.8 943.0,533.6 944.1,533.5 945.1,536.4 946.1,531.7 947.7,561.7 948.7,564.5 949.8,559.9 950.9,557.9 951.9,560.0 953.0,559.9 954.1,559.9 955.2,560.7 956.2,558.1 957.3,562.2 958.4,557.6 959.5,561.6 960.5,567.1 961.9,558.8 965.5,589.3 966.5,592.0 967.5,589.3 968.6,590.0 969.6,592.0 970.6,590.9 971.7,588.6 972.7,588.1 973.7,587.0 974.8,591.4 975.8,588.3 976.8,586.8 977.8,588.5 978.9,585.0 979.9,590.7 980.9,589.6 982.0,589.2 983.0,590.7 984.0,589.9 985.1,589.3 987.0,582.9 988.7,597.4 990.0,615.9 992.5,604.3 993.8,613.6 994.9,642.4 995.8,615.9 996.7,641.2 997.7,613.6 999.0,615.9 1000.1,617.0 1001.1,616.9 1002.2,616.0 1003.3,619.3 1004.4,615.4 1005.4,618.3 1006.5,616.4 1007.6,618.3 1008.6,615.6 1009.7,616.7 1010.8,616.4 1013.2,604.3 1014.4,608.9 1015.7,615.9 1017.0,612.4 1019.0,633.2 1020.2,635.8 1021.3,634.3 1022.3,631.5 1023.4,638.7 1024.4,634.2 1025.5,635.0 1026.5,636.5 1027.6,638.6 1028.6,633.0 1029.7,636.1 1030.7,634.7 1031.8,637.7 1032.8,638.7 1033.9,635.2 1034.9,636.2 1036.0,638.5 1037.0,638.6 1038.0,637.1 1039.1,640.2 1040.1,640.6 1041.2,639.2 1042.2,637.3 1043.3,637.8 1044.3,639.4 1045.4,637.6 1046.4,640.3 1047.4,640.9 1048.5,635.8 1049.5,640.9 1050.5,638.9 1051.6,638.9 1052.6,639.7 1053.6,639.5 1054.7,638.6 1055.7,638.8 1056.7,640.9 1057.8,639.8 1058.8,637.3 1059.8,638.4 1060.8,640.5 1061.9,639.6 1062.9,641.4 1063.9,642.0 1065.0,640.6 1066.0,636.7 1067.0,640.7 1068.1,643.1 1069.1,639.7 1070.1,640.7 1071.8,628.5 1072.4,638.0 1073.5,637.0 1074.5,640.1 1075.5,639.2 1076.5,641.2 1077.6,637.0 1078.6,640.9 1079.6,639.3 1080.6,634.6 1081.7,641.3 1082.7,639.0 1083.7,639.5 1084.7,638.4 1085.7,638.4 1086.8,636.3 1087.8,638.3 1088.8,638.1 1089.8,641.8 1090.9,638.5 1091.9,642.0 1092.9,636.8 1093.9,639.4 1094.9,637.3 1096.0,640.3 1097.0,638.8 1098.0,639.1 1099.0,638.1 1100.1,639.4 1101.1,640.4 1102.1,640.0 1103.1,640.5 1104.2,641.0 1105.2,641.6 1106.2,642.1 1107.2,635.3 1108.2,640.6 1109.3,641.4 1110.3,637.1 1111.3,638.5 1112.3,639.4 1113.4,636.8 1114.4,635.3 1115.4,640.8 1116.4,636.2 1117.5,637.9 1118.5,636.7 1119.5,640.1 1120.5,635.6 1121.5,636.7 1122.6,644.3 1123.6,636.4 1124.6,636.3 1125.6,641.8 1126.7,638.3 1127.7,639.3 1128.7,638.5 1129.7,640.7 1130.7,637.6 1131.8,637.4 1132.8,639.1 1133.8,639.1 1134.8,642.4 1135.9,637.8 1138.2,641.2 1139.5,644.7 1140.8,666.6 1142.0,668.0 1143.1,666.5 1144.1,667.5 1145.1,663.6 1146.2,666.5 1147.2,664.8 1148.2,666.6 1149.2,666.6 1150.3,665.7 1151.3,666.6 1152.3,663.9 1153.4,666.7 1154.4,664.7 1155.4,667.8 1156.4,667.5 1157.5,665.7 1158.5,668.0 1159.5,664.3 1160.5,665.9 1161.6,666.4 1162.6,664.5 1163.6,667.0 1164.7,667.3 1165.7,669.4 1166.7,668.6 1167.7,666.8 1168.8,668.7 1169.8,665.6 1170.8,665.3 1171.9,665.9 1172.9,668.2 1173.9,667.4 1174.9,667.9 1176.0,665.6 1177.0,665.2 1178.0,666.6 1179.1,666.3 1180.1,666.1 1181.1,665.5 1182.1,667.3 1183.2,667.4 1184.2,665.4 1185.2,665.7 1186.3,665.8 1187.3,666.2 1188.3,665.4 1189.3,665.8 1190.4,667.0 1191.4,664.3 1192.4,665.0 1193.5,666.5 1194.5,666.4 1195.5,667.1 1196.5,667.8 1197.6,667.4 1198.6,667.9 1199.6,667.0 1200.7,665.9 1201.7,666.3 1202.7,667.8 1203.7,666.4 1204.8,666.9 1205.8,667.4 1206.8,664.9 1207.9,667.4 1208.9,665.2 1209.9,668.1 1210.9,665.9 1212.0,667.0 1213.0,665.1 1214.0,665.7 1215.0,667.0 1216.1,665.4 1217.1,664.7 1218.1,664.6 1219.2,664.4 1220.2,666.5 1221.2,663.6 1222.2,666.8 1223.3,666.2 1224.3,667.8 1225.3,666.3 1226.4,667.7 1227.4,665.9 1228.4,668.1 1229.4,663.9 1230.5,665.1 1231.5,664.2 1232.5,664.7 1233.6,665.8 1234.6,665.5 1235.6,665.8 1236.6,668.1 1237.7,667.3 1238.7,666.0" fill="none" stroke="#ed2224" stroke-width="1.35" stroke-linejoin="round"/>
<path d="M947.00 473.00 V506.90" stroke="#1c1c1c" stroke-width="1.3" fill="none"/>
<path d="M947.00 512.90 L942.00 501.00 L947.00 504.10 L952.00 501.00 Z" fill="#231f20"/>
<path d="M963.90 512.20 V546.10" stroke="#1c1c1c" stroke-width="1.3" fill="none"/>
<path d="M963.90 552.10 L958.90 540.20 L963.90 543.30 L968.90 540.20 Z" fill="#231f20"/>
<path d="M990.10 535.40 V569.60" stroke="#1c1c1c" stroke-width="1.3" fill="none"/>
<path d="M990.10 575.60 L985.10 563.70 L990.10 566.80 L995.10 563.70 Z" fill="#231f20"/>
<path d="M1017.80 561.10 V596.10" stroke="#1c1c1c" stroke-width="1.3" fill="none"/>
<path d="M1017.80 602.10 L1012.80 590.20 L1017.80 593.30 L1022.80 590.20 Z" fill="#231f20"/>
<path d="M1136.80 593.20 V628.10" stroke="#1c1c1c" stroke-width="1.3" fill="none"/>
<path d="M1136.80 634.10 L1131.80 622.20 L1136.80 625.30 L1141.80 622.20 Z" fill="#231f20"/>
</g>
<g id="b5">
<line x1="485.10" y1="780.10" x2="485.10" y2="1053.70" stroke="#0c0c0c" stroke-width="1.45"/>
<line x1="477.00" y1="1045.60" x2="808.30" y2="1045.60" stroke="#0c0c0c" stroke-width="1.45"/>
<text x="485.10" y="1080.50" font-size="20.4" text-anchor="middle">0</text>
<line x1="549.62" y1="1045.60" x2="549.62" y2="1053.70" stroke="#0c0c0c" stroke-width="1.45"/>
<text x="549.62" y="1080.50" font-size="20.4" text-anchor="middle">5</text>
<line x1="614.14" y1="1045.60" x2="614.14" y2="1053.70" stroke="#0c0c0c" stroke-width="1.45"/>
<text x="614.14" y="1080.50" font-size="20.4" text-anchor="middle">10</text>
<line x1="678.66" y1="1045.60" x2="678.66" y2="1053.70" stroke="#0c0c0c" stroke-width="1.45"/>
<text x="678.66" y="1080.50" font-size="20.4" text-anchor="middle">15</text>
<line x1="743.18" y1="1045.60" x2="743.18" y2="1053.70" stroke="#0c0c0c" stroke-width="1.45"/>
<text x="743.18" y="1080.50" font-size="20.4" text-anchor="middle">20</text>
<line x1="807.70" y1="1045.60" x2="807.70" y2="1053.70" stroke="#0c0c0c" stroke-width="1.45"/>
<text x="807.70" y="1080.50" font-size="20.4" text-anchor="middle">25</text>
<text x="470.70" y="1053.20" font-size="20.4" text-anchor="end">0</text>
<line x1="477.00" y1="979.38" x2="485.10" y2="979.38" stroke="#0c0c0c" stroke-width="1.45"/>
<text x="470.70" y="986.98" font-size="20.4" text-anchor="end">200</text>
<line x1="477.00" y1="913.15" x2="485.10" y2="913.15" stroke="#0c0c0c" stroke-width="1.45"/>
<text x="470.70" y="920.75" font-size="20.4" text-anchor="end">400</text>
<line x1="477.00" y1="846.92" x2="485.10" y2="846.92" stroke="#0c0c0c" stroke-width="1.45"/>
<text x="470.70" y="854.52" font-size="20.4" text-anchor="end">600</text>
<line x1="477.00" y1="780.70" x2="485.10" y2="780.70" stroke="#0c0c0c" stroke-width="1.45"/>
<text x="470.70" y="788.30" font-size="20.4" text-anchor="end">800</text>
<text x="572.13" y="1113.80" font-size="24.4" letter-spacing="-0.740">time (seconds)</text>
<text transform="translate(413.70 1013.85) rotate(-90)" font-size="24.4" letter-spacing="-0.748">Intensity (arb. units)</text>
<polyline points="485.1,837.2 486.4,846.2 489.0,871.7 490.1,857.9 491.7,868.5 494.3,849.4 495.4,856.3 496.4,848.1 498.6,854.7 499.1,855.7 501.2,871.7 501.7,880.1 502.3,896.0 502.6,909.8 503.2,929.7 504.5,926.4 505.7,926.2 507.0,927.3 508.3,927.5 509.6,930.5 510.9,926.3 512.2,927.4 513.5,921.2 514.8,933.3 516.1,912.9 517.4,945.8 518.7,927.3 519.9,922.6 521.2,928.9 522.5,932.2 523.8,928.2 525.1,923.9 526.4,920.8 527.7,937.0 529.0,926.9 530.3,932.0 531.6,922.2 532.8,931.3 534.1,927.6 535.4,922.2 536.7,930.4 538.0,927.4 539.3,933.4 540.6,930.7 541.9,940.4 543.2,934.2 544.5,932.3 545.7,933.4 547.0,916.9 548.3,942.9 549.6,942.5 550.9,928.2 552.2,926.1 553.5,928.8 554.8,923.0 556.1,917.6 557.4,932.6 558.7,937.8 559.9,931.0 561.2,923.1 562.5,927.6 563.8,931.3 565.4,928.1 566.1,982.7 567.0,980.0 568.3,980.1 569.6,989.7 570.9,979.3 572.2,985.4 573.5,982.6 574.8,983.9 576.0,981.1 577.3,976.9 578.6,982.4 579.9,980.7 581.2,977.0 582.5,979.2 583.8,984.6 585.0,977.6 586.3,983.4 587.6,982.7 588.9,980.4 590.2,974.1 591.5,985.6 592.8,983.3 594.0,980.7 595.3,985.5 596.6,980.8 597.9,975.3 599.2,990.0 600.5,981.2 601.8,984.8 603.0,971.5 604.3,978.5 605.6,978.5 606.9,982.0 608.2,986.3 609.5,981.0 610.8,979.7 612.0,981.2 613.3,972.8 614.6,977.7 615.9,985.7 617.2,983.2 618.5,980.0 619.8,987.2 621.0,982.3 622.3,984.4 623.6,980.5 624.9,980.7 626.2,984.4 627.5,975.2 628.8,984.1 630.0,978.1 631.3,986.4 632.6,985.9 633.9,984.3 635.2,983.3 636.5,977.4 637.8,988.5 639.0,973.4 640.3,987.1 641.6,974.2 642.9,980.4 644.2,983.7 645.5,977.3 646.8,983.6 648.0,981.3 649.3,981.0 650.6,967.5 651.9,986.0 653.2,972.1 654.5,982.6 655.8,984.7 657.1,983.7 658.3,975.3 659.6,982.3 660.9,985.1 662.2,978.4 663.5,980.0 664.8,976.2 666.1,986.8 667.3,974.2 668.6,975.5 669.9,984.7 671.2,983.0 672.5,979.1 673.8,982.5 675.1,977.6 676.3,978.6 677.6,981.5 678.9,986.9 680.2,991.1 681.5,980.0 682.8,987.5 684.1,976.0 685.3,972.9 686.6,980.8 687.9,977.2 689.2,975.4 690.5,977.5 691.8,986.8 693.1,986.2 694.3,983.8 695.6,981.0 696.9,985.5 698.2,980.4 699.5,975.1 700.8,983.3 702.1,981.3 703.3,986.1 704.6,982.0 705.9,977.0 707.2,975.0 708.5,980.3 709.8,985.2 711.1,971.9 712.3,991.3 713.6,983.5 714.9,985.1 716.2,981.4 717.5,978.6 718.8,983.5 720.1,964.2 721.3,971.4 722.6,977.2 723.9,983.7 725.2,988.7 726.5,975.6 727.8,977.1 729.1,979.1 730.3,974.3 731.6,979.0 732.9,988.2 734.2,990.4 735.5,983.2 736.8,980.7 738.1,978.3 739.3,980.0 740.6,982.2 741.9,985.2 743.2,978.6 744.5,977.8 745.8,984.1 747.1,986.0 748.3,983.3 750.3,986.0 752.2,986.0 753.5,992.6 754.8,1025.7 756.1,1030.7 757.4,1034.0 758.7,1025.7 760.0,1037.3 761.2,1019.1 762.5,1032.0 763.6,1028.6 764.6,1032.5 765.6,1028.2 766.6,1031.4 767.7,1027.7 768.7,1022.4 769.7,1032.1 770.7,1028.6 771.8,1022.3 772.8,1026.3 773.8,1028.3 774.9,1027.3 775.9,1029.5 776.9,1032.7 777.9,1035.9 779.0,1030.7 780.0,1030.3 781.0,1025.5 782.0,1027.8 783.1,1032.8 784.1,1027.2 785.1,1031.9 786.1,1025.1 787.2,1031.3 788.2,1026.0 789.2,1028.0 790.3,1029.6 791.3,1025.2 792.3,1028.8 793.3,1035.0 794.4,1027.0 795.4,1030.7 796.4,1029.2 797.4,1027.3 798.5,1025.9 799.5,1027.5 800.5,1030.8 801.5,1029.8 802.6,1031.0 803.6,1028.5 804.6,1029.6 805.6,1025.6 806.7,1029.6 807.7,1027.4" fill="none" stroke="#ed2224" stroke-width="1.35" stroke-linejoin="round"/>
<path d="M499.80 800.30 V834.70" stroke="#1c1c1c" stroke-width="1.3" fill="none"/>
<path d="M499.80 840.70 L494.80 828.80 L499.80 831.90 L504.80 828.80 Z" fill="#231f20"/>
<path d="M565.20 881.00 V915.60" stroke="#1c1c1c" stroke-width="1.3" fill="none"/>
<path d="M565.20 921.60 L560.20 909.70 L565.20 912.80 L570.20 909.70 Z" fill="#231f20"/>
<path d="M753.00 921.60 V956.00" stroke="#1c1c1c" stroke-width="1.3" fill="none"/>
<path d="M753.00 962.00 L748.00 950.10 L753.00 953.20 L758.00 950.10 Z" fill="#231f20"/>
</g>
<g id="b6">
<line x1="922.30" y1="779.40" x2="922.30" y2="1053.10" stroke="#0c0c0c" stroke-width="1.45"/>
<line x1="914.20" y1="1045.00" x2="1245.50" y2="1045.00" stroke="#0c0c0c" stroke-width="1.45"/>
<text x="922.30" y="1079.90" font-size="20.4" text-anchor="middle">0</text>
<line x1="986.82" y1="1045.00" x2="986.82" y2="1053.10" stroke="#0c0c0c" stroke-width="1.45"/>
<text x="986.82" y="1079.90" font-size="20.4" text-anchor="middle">10</text>
<line x1="1051.34" y1="1045.00" x2="1051.34" y2="1053.10" stroke="#0c0c0c" stroke-width="1.45"/>
<text x="1051.34" y="1079.90" font-size="20.4" text-anchor="middle">20</text>
<line x1="1115.86" y1="1045.00" x2="1115.86" y2="1053.10" stroke="#0c0c0c" stroke-width="1.45"/>
<text x="1115.86" y="1079.90" font-size="20.4" text-anchor="middle">30</text>
<line x1="1180.38" y1="1045.00" x2="1180.38" y2="1053.10" stroke="#0c0c0c" stroke-width="1.45"/>
<text x="1180.38" y="1079.90" font-size="20.4" text-anchor="middle">40</text>
<line x1="1244.90" y1="1045.00" x2="1244.90" y2="1053.10" stroke="#0c0c0c" stroke-width="1.45"/>
<text x="1244.90" y="1079.90" font-size="20.4" text-anchor="middle">50</text>
<text x="907.90" y="1052.60" font-size="20.4" text-anchor="end">0</text>
<line x1="914.20" y1="992.00" x2="922.30" y2="992.00" stroke="#0c0c0c" stroke-width="1.45"/>
<text x="907.90" y="999.60" font-size="20.4" text-anchor="end">5000</text>
<line x1="914.20" y1="939.00" x2="922.30" y2="939.00" stroke="#0c0c0c" stroke-width="1.45"/>
<text x="907.90" y="946.60" font-size="20.4" text-anchor="end">10000</text>
<line x1="914.20" y1="886.00" x2="922.30" y2="886.00" stroke="#0c0c0c" stroke-width="1.45"/>
<text x="907.90" y="893.60" font-size="20.4" text-anchor="end">15000</text>
<line x1="914.20" y1="833.00" x2="922.30" y2="833.00" stroke="#0c0c0c" stroke-width="1.45"/>
<text x="907.90" y="840.60" font-size="20.4" text-anchor="end">20000</text>
<line x1="914.20" y1="780.00" x2="922.30" y2="780.00" stroke="#0c0c0c" stroke-width="1.45"/>
<text x="907.90" y="787.60" font-size="20.4" text-anchor="end">25000</text>
<text x="1009.63" y="1113.80" font-size="24.4" letter-spacing="-0.740">time (seconds)</text>
<text transform="translate(835.20 1012.75) rotate(-90)" font-size="24.4" letter-spacing="-0.671">Intensity (arb. units)</text>
<polyline points="922.3,799.1 922.9,806.8 923.6,825.4 924.2,830.9 924.9,844.7 925.5,844.3 926.2,854.5 926.8,856.7 927.5,866.2 928.1,876.3 928.8,884.8 929.4,884.9 930.0,889.1 930.7,894.2 931.3,892.2 932.0,904.0 932.6,897.8 933.3,892.3 933.9,898.2 934.6,905.0 935.2,898.6 935.8,904.5 936.5,910.0 937.1,913.2 937.8,914.2 938.4,915.4 939.1,919.9 939.7,916.6 940.4,924.9 941.0,922.7 941.7,930.9 942.3,933.7 942.9,930.6 943.6,931.5 944.2,929.2 944.9,936.6 945.5,937.3 946.2,943.3 946.8,942.4 947.5,943.3 948.1,947.9 948.8,946.6 949.4,948.0 950.0,952.2 950.7,955.9 951.3,958.5 952.0,958.1 952.6,963.3 953.3,960.3 953.9,965.3 954.6,964.8 955.2,968.2 955.9,968.1 956.5,968.2 957.1,965.6 957.8,966.9 958.4,967.2 959.1,965.5 959.7,969.9 960.4,966.4 961.0,969.9 961.7,970.8 962.3,970.3 962.9,967.2 963.6,966.2 964.2,971.2 964.9,972.6 965.5,974.0 966.2,970.8 966.8,970.2 967.5,970.6 968.1,971.2 968.8,969.1 969.4,972.2 970.0,971.7 970.7,973.4 971.3,975.7 972.0,979.1 972.6,975.1 973.3,977.2 973.9,977.8 974.6,978.8 975.2,978.2 975.9,978.9 976.5,984.5 977.1,981.4 977.8,980.6 978.4,981.6 979.1,983.5 979.7,983.4 980.4,987.7 981.0,984.2 981.7,985.8 982.3,985.4 982.9,984.6 983.6,985.9 984.2,988.7 984.9,990.7 985.5,988.0 986.2,987.5 986.8,987.3 987.5,986.2 988.1,987.7 988.8,988.3 989.4,992.6 990.0,988.1 990.7,989.7 991.3,986.4 992.0,989.3 992.6,992.5 993.3,991.3 993.9,990.6 994.6,994.0 995.2,995.7 995.9,992.1 996.5,994.3 997.1,994.1 997.8,993.9 998.4,995.0 999.1,993.3 999.7,994.6 1000.4,996.1 1001.0,996.6 1001.7,999.7 1002.3,1003.3 1002.9,1002.6 1003.6,1005.3 1004.2,1002.9 1004.9,1005.7 1005.5,1004.0 1006.2,1002.2 1006.8,1003.5 1007.5,1006.4 1008.1,1007.9 1008.8,1006.5 1009.4,1004.3 1010.0,1005.5 1010.7,1009.5 1011.3,1005.7 1012.0,1007.0 1012.6,1006.6 1013.3,1005.8 1013.9,1009.9 1014.6,1007.9 1015.2,1008.9 1015.9,1007.6 1016.5,1010.3 1017.1,1012.5 1017.8,1010.1 1018.4,1009.1 1019.1,1011.5 1019.7,1011.8 1020.4,1011.4 1021.0,1012.2 1021.7,1013.0 1022.3,1013.3 1023.0,1010.5 1023.6,1014.0 1024.2,1013.3 1024.9,1012.0 1025.5,1012.4 1026.2,1017.2 1026.8,1016.1 1027.5,1017.2 1028.1,1015.7 1028.8,1019.5 1029.4,1018.4 1030.0,1016.7 1030.7,1016.2 1031.3,1019.0 1032.0,1017.0 1032.6,1015.7 1033.3,1019.6 1033.9,1016.4 1034.6,1018.8 1035.2,1022.5 1035.9,1019.3 1036.5,1019.8 1037.1,1018.2 1037.8,1022.1 1038.4,1018.7 1039.1,1022.0 1039.7,1021.6 1040.4,1023.2 1041.0,1022.7 1041.7,1022.0 1042.3,1024.4 1043.0,1025.7 1043.6,1024.4 1044.2,1026.3 1044.9,1026.0 1045.5,1024.8 1046.2,1025.9 1046.8,1025.4 1047.5,1025.5 1048.1,1025.5 1048.8,1024.2 1049.4,1023.5 1050.0,1024.7 1050.7,1027.6 1051.3,1027.1 1052.0,1023.6 1052.6,1022.6 1053.3,1022.9 1053.9,1025.5 1054.6,1024.4 1055.2,1025.6 1055.9,1024.2 1056.5,1024.9 1057.1,1026.3 1057.8,1023.9 1058.4,1024.8 1059.1,1021.6 1059.7,1023.1 1060.4,1027.1 1061.0,1023.5 1061.7,1026.2 1062.3,1025.7 1063.0,1025.1 1063.6,1026.8 1064.2,1020.2 1064.9,1023.9 1065.5,1026.9 1066.2,1024.2 1066.8,1029.7 1067.5,1024.8 1068.1,1026.8 1068.8,1027.0 1069.4,1026.4 1070.1,1027.8 1070.7,1027.6 1071.3,1030.0 1072.0,1028.0 1072.6,1029.2 1073.3,1028.1 1073.9,1029.3 1074.6,1028.5 1075.2,1030.0 1075.9,1031.2 1076.5,1030.5 1077.1,1028.2 1077.8,1030.0 1078.4,1029.6 1079.1,1030.3 1079.7,1028.6 1080.4,1031.2 1081.0,1034.0 1081.7,1031.3 1082.3,1031.3 1083.0,1028.7 1083.6,1031.7 1084.2,1031.7 1084.9,1030.5 1085.5,1030.7 1086.2,1032.6 1086.8,1030.7 1087.5,1033.5 1088.1,1033.1 1088.8,1035.0 1089.4,1037.1 1090.1,1035.4 1090.7,1035.7 1091.3,1036.5 1092.0,1032.5 1092.6,1038.2 1093.3,1035.8 1093.9,1034.1 1094.6,1035.0 1095.2,1035.1 1095.9,1036.5 1096.5,1036.3 1097.1,1033.6 1097.8,1033.0 1098.4,1035.8 1099.1,1034.2 1099.7,1034.7 1100.4,1033.5 1101.0,1035.3 1101.7,1032.8 1102.3,1034.5 1103.0,1033.4 1103.6,1034.7 1104.2,1032.3 1104.9,1034.2 1105.5,1032.9 1106.2,1033.8 1106.8,1032.6 1107.5,1033.1 1108.1,1030.3 1108.8,1034.9 1109.4,1032.6 1110.1,1034.5 1110.7,1033.6 1111.3,1036.2 1112.0,1032.1 1112.6,1037.1 1113.3,1032.7 1113.9,1035.9 1114.6,1034.2 1115.2,1033.1 1115.9,1034.9 1116.5,1033.5 1117.2,1034.3 1117.8,1035.3 1118.4,1034.1 1119.1,1032.8 1119.7,1034.6 1120.4,1035.2 1121.0,1035.3 1121.7,1035.8 1122.3,1034.1 1123.0,1034.9 1123.6,1036.5 1124.2,1036.0 1124.9,1038.1 1125.5,1037.0 1126.2,1036.6 1126.8,1037.1 1127.5,1037.2 1128.1,1035.7 1128.8,1036.1 1129.4,1036.2 1130.1,1040.4 1130.7,1036.9 1131.3,1038.2 1132.0,1038.1 1132.6,1037.2 1133.3,1036.5 1133.9,1040.0 1134.6,1035.2 1135.2,1036.7 1135.9,1037.6 1136.5,1038.9 1137.2,1039.4 1137.8,1035.5 1138.4,1038.6 1139.1,1037.9 1139.7,1038.0 1140.4,1037.8 1141.0,1034.2 1141.7,1035.0 1142.3,1038.9 1143.0,1038.6 1143.6,1035.3 1144.2,1036.9 1144.9,1038.6 1145.5,1038.0 1146.2,1035.9 1146.8,1037.4 1147.5,1037.1 1148.1,1031.9 1148.8,1036.4 1149.4,1038.4 1150.1,1036.5 1150.7,1038.8 1151.3,1038.3 1152.0,1038.1 1152.6,1039.2 1153.3,1037.3 1153.9,1037.7 1154.6,1038.0 1155.2,1036.6 1155.9,1036.4 1156.5,1038.2 1157.2,1036.4 1157.8,1036.4 1158.4,1038.9 1159.1,1037.1 1159.7,1039.9 1160.4,1040.2 1161.0,1038.6 1161.7,1037.3 1162.3,1035.7 1163.0,1038.7 1163.6,1037.2 1164.3,1040.8 1164.9,1038.6 1165.5,1037.4 1166.2,1040.0 1166.8,1039.0 1167.5,1038.8 1168.1,1036.9 1168.8,1041.0 1169.4,1040.8 1170.1,1038.6 1170.7,1038.5 1171.3,1039.2 1172.0,1040.5 1172.6,1039.8 1173.3,1037.1 1173.9,1040.4 1174.6,1038.9 1175.2,1038.7 1175.9,1041.8 1176.5,1041.4 1177.2,1040.0 1177.8,1041.3 1178.4,1041.1 1179.1,1042.4 1179.7,1041.9 1180.4,1042.1 1181.0,1039.7 1181.7,1042.0 1182.3,1042.2 1183.0,1041.0 1183.6,1042.3 1184.3,1042.8 1184.9,1041.8 1185.5,1044.9 1186.2,1043.1 1186.8,1042.3 1187.5,1042.8 1188.1,1042.9 1188.8,1042.5 1189.4,1043.8 1190.1,1041.1 1190.7,1043.4 1191.3,1041.5 1192.0,1043.9 1192.6,1039.2 1193.3,1041.6 1193.9,1045.2 1194.6,1044.8 1195.2,1044.6 1195.9,1043.2 1196.5,1043.4 1197.2,1040.8 1197.8,1040.7 1198.4,1045.1 1199.1,1043.9 1199.7,1045.5 1200.4,1044.3 1201.0,1043.2 1201.7,1042.7 1202.3,1043.1 1203.0,1041.5 1203.6,1045.0 1204.3,1044.6 1204.9,1043.4 1205.5,1042.6 1206.2,1044.1 1206.8,1043.4 1207.5,1041.7 1208.1,1044.5 1208.8,1043.5 1209.4,1045.0 1210.1,1042.5 1210.7,1045.5 1211.3,1043.4 1212.0,1040.5 1212.6,1043.5 1213.3,1044.1 1213.9,1043.2 1214.6,1043.3 1215.2,1043.9 1215.9,1044.2 1216.5,1043.3 1217.2,1043.2 1217.8,1044.5 1218.4,1043.0 1219.1,1044.2 1219.7,1043.9 1220.4,1044.3 1221.0,1045.5 1221.7,1045.5 1222.3,1042.2 1223.0,1045.5 1223.6,1045.4 1224.3,1044.6 1224.9,1044.7 1225.5,1044.7 1226.2,1044.7 1226.8,1044.7 1227.5,1044.7 1228.1,1044.7 1228.8,1044.8 1229.4,1044.8 1230.1,1044.8 1230.7,1044.8 1231.4,1044.8 1232.0,1044.8 1232.6,1044.8 1233.3,1044.8 1233.9,1044.8 1234.6,1044.8 1235.2,1044.9 1235.9,1044.9 1236.5,1044.9 1237.2,1044.9 1237.8,1044.9 1238.4,1044.9 1239.1,1044.9 1239.7,1044.9 1240.4,1044.9 1241.0,1044.9 1241.7,1045.0 1242.3,1045.0 1243.0,1045.0 1243.6,1045.0 1244.3,1045.0 1244.9,1045.0" fill="none" stroke="#ed2224" stroke-width="1.35" stroke-linejoin="round"/>
</g>
<g id="chart-c">
<clipPath id="cbc"><rect x="1300" y="0" width="700" height="476.30"/></clipPath><g clip-path="url(#cbc)">
<rect x="1420.30" y="417.92" width="62.60" height="58.48" fill="#b09dcd" stroke="#141414" stroke-width="1.45"/>
<rect x="1420.30" y="385.03" width="62.60" height="32.89" fill="#3bc4f2" stroke="#141414" stroke-width="1.45"/>
<rect x="1420.30" y="370.41" width="62.60" height="14.62" fill="#82cdd8" stroke="#141414" stroke-width="1.45"/>
<rect x="1420.30" y="355.79" width="62.60" height="14.62" fill="#f9b08e" stroke="#141414" stroke-width="1.45"/>
<rect x="1420.30" y="110.90" width="62.60" height="244.88" fill="#f48f92" stroke="#141414" stroke-width="1.45"/>
<rect x="1516.30" y="385.03" width="62.60" height="91.38" fill="#b09dcd" stroke="#141414" stroke-width="1.45"/>
<rect x="1516.30" y="319.24" width="62.60" height="65.79" fill="#3bc4f2" stroke="#141414" stroke-width="1.45"/>
<rect x="1516.30" y="300.96" width="62.60" height="18.27" fill="#82cdd8" stroke="#141414" stroke-width="1.45"/>
<rect x="1516.30" y="279.03" width="62.60" height="21.93" fill="#f9b08e" stroke="#141414" stroke-width="1.45"/>
<rect x="1516.30" y="110.90" width="62.60" height="168.13" fill="#f48f92" stroke="#141414" stroke-width="1.45"/>
<rect x="1612.40" y="374.06" width="62.60" height="102.34" fill="#b09dcd" stroke="#141414" stroke-width="1.45"/>
<rect x="1612.40" y="238.83" width="62.60" height="135.24" fill="#3bc4f2" stroke="#141414" stroke-width="1.45"/>
<rect x="1612.40" y="194.97" width="62.60" height="43.86" fill="#82cdd8" stroke="#141414" stroke-width="1.45"/>
<rect x="1612.40" y="169.38" width="62.60" height="25.58" fill="#f9b08e" stroke="#141414" stroke-width="1.45"/>
<rect x="1612.40" y="110.90" width="62.60" height="58.48" fill="#f48f92" stroke="#141414" stroke-width="1.45"/>
<rect x="1708.40" y="326.55" width="62.60" height="149.85" fill="#b09dcd" stroke="#141414" stroke-width="1.45"/>
<rect x="1708.40" y="198.62" width="62.60" height="127.93" fill="#3bc4f2" stroke="#141414" stroke-width="1.45"/>
<rect x="1708.40" y="169.38" width="62.60" height="29.24" fill="#82cdd8" stroke="#141414" stroke-width="1.45"/>
<rect x="1708.40" y="140.14" width="62.60" height="29.24" fill="#f9b08e" stroke="#141414" stroke-width="1.45"/>
<rect x="1708.40" y="114.56" width="62.60" height="25.58" fill="#f48f92" stroke="#141414" stroke-width="1.45"/>
<rect x="1804.40" y="253.45" width="62.60" height="222.95" fill="#b09dcd" stroke="#141414" stroke-width="1.45"/>
<rect x="1804.40" y="147.45" width="62.60" height="106.00" fill="#3bc4f2" stroke="#141414" stroke-width="1.45"/>
<rect x="1804.40" y="136.49" width="62.60" height="10.97" fill="#82cdd8" stroke="#141414" stroke-width="1.45"/>
<rect x="1804.40" y="125.52" width="62.60" height="10.96" fill="#f9b08e" stroke="#141414" stroke-width="1.45"/>
<rect x="1804.40" y="114.56" width="62.60" height="10.96" fill="#f48f92" stroke="#141414" stroke-width="1.45"/>
</g>
<line x1="1387.40" y1="109.60" x2="1387.40" y2="475.60" stroke="#0c0c0c" stroke-width="1.45"/>
<line x1="1379.30" y1="475.60" x2="1899.60" y2="475.60" stroke="#0c0c0c" stroke-width="1.45"/>
<text x="1373.20" y="481.20" font-size="20.4" text-anchor="end">0</text>
<line x1="1379.30" y1="402.52" x2="1387.40" y2="402.52" stroke="#0c0c0c" stroke-width="1.45"/>
<text x="1373.20" y="409.52" font-size="20.4" text-anchor="end">0.2</text>
<line x1="1379.30" y1="329.44" x2="1387.40" y2="329.44" stroke="#0c0c0c" stroke-width="1.45"/>
<text x="1373.20" y="336.44" font-size="20.4" text-anchor="end">0.4</text>
<line x1="1379.30" y1="256.36" x2="1387.40" y2="256.36" stroke="#0c0c0c" stroke-width="1.45"/>
<text x="1373.20" y="263.36" font-size="20.4" text-anchor="end">0.6</text>
<line x1="1379.30" y1="183.28" x2="1387.40" y2="183.28" stroke="#0c0c0c" stroke-width="1.45"/>
<text x="1373.20" y="190.28" font-size="20.4" text-anchor="end">0.8</text>
<line x1="1379.30" y1="110.20" x2="1387.40" y2="110.20" stroke="#0c0c0c" stroke-width="1.45"/>
<text x="1373.20" y="117.20" font-size="20.4" text-anchor="end">1.0</text>
<text x="1378.73" y="91.60" font-size="20.4" style="fill:#8b8b8b;stroke:#8b8b8b" letter-spacing="0.233">N =</text>
<text x="1451.80" y="91.60" font-size="20.4" text-anchor="middle" style="fill:#8b8b8b;stroke:#8b8b8b">340</text>
<text x="1547.80" y="91.60" font-size="20.4" text-anchor="middle" style="fill:#8b8b8b;stroke:#8b8b8b">357</text>
<text x="1643.90" y="91.60" font-size="20.4" text-anchor="middle" style="fill:#8b8b8b;stroke:#8b8b8b">542</text>
<text x="1739.90" y="91.60" font-size="20.4" text-anchor="middle" style="fill:#8b8b8b;stroke:#8b8b8b">524</text>
<text x="1835.90" y="91.60" font-size="20.4" text-anchor="middle" style="fill:#8b8b8b;stroke:#8b8b8b">404</text>
<text transform="translate(1299.40 414.90) rotate(-90)" font-size="24.4" letter-spacing="-0.031">Fraction of molecules</text>
<text transform="translate(1328.60 435.31) rotate(-90)" font-size="24.4" letter-spacing="0.113">(experimentally observed)</text>
<text x="1333.70" y="518.60" font-size="24.4" letter-spacing="-0.398">Hrd1</text>
<text x="1280.90" y="551.90" font-size="24.4" letter-spacing="0.098">Liposome</text>
<text x="1452.60" y="518.60" font-size="24.4" text-anchor="middle">20</text>
<text x="1452.60" y="551.90" font-size="24.4" text-anchor="middle">1</text>
<text x="1548.60" y="518.60" font-size="24.4" text-anchor="middle">5</text>
<text x="1548.60" y="551.90" font-size="24.4" text-anchor="middle">1</text>
<text x="1644.70" y="518.60" font-size="24.4" text-anchor="middle">1</text>
<text x="1644.70" y="551.90" font-size="24.4" text-anchor="middle">1</text>
<text x="1740.70" y="518.60" font-size="24.4" text-anchor="middle">1</text>
<text x="1740.70" y="551.90" font-size="24.4" text-anchor="middle">5</text>
<text x="1836.70" y="518.60" font-size="24.4" text-anchor="middle">1</text>
<text x="1836.70" y="551.90" font-size="24.4" text-anchor="middle">20</text>
<rect x="1893.5" y="213.6" width="106.2" height="158.8" fill="#fff" stroke="#2a2a2a" stroke-width="0.9"/>
<text x="1896.73" y="232.30" font-size="20.4" letter-spacing="0.074">Hrd1 steps</text>
<rect x="1923.6" y="247.40" width="18" height="17.4" fill="#f48f92" stroke="#b9a9a9" stroke-width="0.5"/>
<text x="1969.00" y="261.30" font-size="20.4" text-anchor="end">&gt;4</text>
<rect x="1923.6" y="273.12" width="18" height="17.4" fill="#f9b08e" stroke="#b9a9a9" stroke-width="0.5"/>
<text x="1969.00" y="287.02" font-size="20.4" text-anchor="end">4</text>
<rect x="1923.6" y="298.84" width="18" height="17.4" fill="#82cdd8" stroke="#b9a9a9" stroke-width="0.5"/>
<text x="1969.00" y="312.74" font-size="20.4" text-anchor="end">3</text>
<rect x="1923.6" y="324.56" width="18" height="17.4" fill="#3bc4f2" stroke="#b9a9a9" stroke-width="0.5"/>
<text x="1969.00" y="338.46" font-size="20.4" text-anchor="end">2</text>
<rect x="1923.6" y="350.28" width="18" height="17.4" fill="#b09dcd" stroke="#b9a9a9" stroke-width="0.5"/>
<text x="1969.00" y="364.18" font-size="20.4" text-anchor="end">1</text>
</g>
<g id="chart-d">
<clipPath id="cbd"><rect x="1300" y="0" width="700" height="1032.70"/></clipPath><g clip-path="url(#cbd)">
<rect x="1466.00" y="704.86" width="62.90" height="327.14" fill="#b09dcd" stroke="#1c1c1c" stroke-width="1.45"/>
<rect x="1466.00" y="667.70" width="62.90" height="37.16" fill="#cacaca" stroke="#1c1c1c" stroke-width="1.45"/>
<rect x="1561.60" y="967.52" width="62.90" height="64.48" fill="#b09dcd" stroke="#1c1c1c" stroke-width="1.45"/>
<rect x="1561.60" y="671.89" width="62.90" height="295.63" fill="#3bc4f2" stroke="#1c1c1c" stroke-width="1.45"/>
<rect x="1561.60" y="667.70" width="62.90" height="4.19" fill="#cacaca" stroke="#1c1c1c" stroke-width="1.45"/>
<rect x="1657.80" y="1023.26" width="62.90" height="8.74" fill="#b09dcd" stroke="#1c1c1c" stroke-width="1.45"/>
<rect x="1657.80" y="934.91" width="62.90" height="88.34" fill="#3bc4f2" stroke="#1c1c1c" stroke-width="1.45"/>
<rect x="1657.80" y="668.06" width="62.90" height="266.85" fill="#82cdd8" stroke="#1c1c1c" stroke-width="1.45"/>
<rect x="1753.80" y="1013.78" width="62.90" height="18.22" fill="#3bc4f2" stroke="#1c1c1c" stroke-width="1.45"/>
<rect x="1753.80" y="908.14" width="62.90" height="105.65" fill="#82cdd8" stroke="#1c1c1c" stroke-width="1.45"/>
<rect x="1753.80" y="668.43" width="62.90" height="239.71" fill="#f9b08e" stroke="#1c1c1c" stroke-width="1.45"/>
</g>
<line x1="1433.30" y1="666.50" x2="1433.30" y2="1032.00" stroke="#2b2b2b" stroke-width="1.45"/>
<line x1="1424.80" y1="1032.00" x2="1848.50" y2="1032.00" stroke="#2b2b2b" stroke-width="1.45"/>
<text x="1418.70" y="1038.40" font-size="20.4" text-anchor="end">0</text>
<line x1="1424.80" y1="959.02" x2="1433.30" y2="959.02" stroke="#2b2b2b" stroke-width="1.45"/>
<text x="1418.70" y="965.42" font-size="20.4" text-anchor="end">0.2</text>
<line x1="1424.80" y1="886.04" x2="1433.30" y2="886.04" stroke="#2b2b2b" stroke-width="1.45"/>
<text x="1418.70" y="892.44" font-size="20.4" text-anchor="end">0.4</text>
<line x1="1424.80" y1="813.06" x2="1433.30" y2="813.06" stroke="#2b2b2b" stroke-width="1.45"/>
<text x="1418.70" y="819.46" font-size="20.4" text-anchor="end">0.6</text>
<line x1="1424.80" y1="740.08" x2="1433.30" y2="740.08" stroke="#2b2b2b" stroke-width="1.45"/>
<text x="1418.70" y="746.48" font-size="20.4" text-anchor="end">0.8</text>
<line x1="1424.80" y1="667.10" x2="1433.30" y2="667.10" stroke="#2b2b2b" stroke-width="1.45"/>
<text x="1418.70" y="673.50" font-size="20.4" text-anchor="end">1.0</text>
<text x="1535.76" y="640.50" font-size="24.4" letter-spacing="0.003">90% labeling efficiency</text>
<text x="1452.65" y="1074.40" font-size="20.4" letter-spacing="0.089">monomer</text>
<text x="1566.54" y="1074.10" font-size="20.4" letter-spacing="0.021">dimer</text>
<text x="1662.59" y="1074.10" font-size="20.4" letter-spacing="-0.096">trimer</text>
<text x="1746.49" y="1074.10" font-size="20.4" letter-spacing="-0.015">tetramer</text>
<text x="1357.32" y="1124.00" font-size="24.4" letter-spacing="-0.760">simulated step distribution of a pure population of tetramer</text>
<text transform="translate(1346.30 988.70) rotate(-90)" font-size="24.4" letter-spacing="-0.011">Fraction of molecules</text>
<text transform="translate(1376.60 964.11) rotate(-90)" font-size="24.4" letter-spacing="0.132">(simulated data)</text>
<rect x="1854.7" y="700.3" width="141.8" height="210.2" fill="#fff" stroke="#2a2a2a" stroke-width="0.9"/>
<text x="1902.43" y="719.50" font-size="20.4" letter-spacing="-0.013">steps</text>
<text x="1875.93" y="744.30" font-size="20.4" letter-spacing="0.104">(simulated)</text>
<rect x="1863.2" y="761.30" width="17.7" height="17.4" fill="#cacaca" stroke="#b9a9a9" stroke-width="0.5"/>
<text x="1889.48" y="774.90" font-size="20.4" letter-spacing="0.032">undetected</text>
<rect x="1863.2" y="786.50" width="17.7" height="17.4" fill="#f48f92" stroke="#b9a9a9" stroke-width="0.5"/>
<text x="1908.30" y="800.10" font-size="20.4" text-anchor="end">&gt;4</text>
<rect x="1863.2" y="811.70" width="17.7" height="17.4" fill="#f9b08e" stroke="#b9a9a9" stroke-width="0.5"/>
<text x="1908.30" y="825.30" font-size="20.4" text-anchor="end">4</text>
<rect x="1863.2" y="836.90" width="17.7" height="17.4" fill="#82cdd8" stroke="#b9a9a9" stroke-width="0.5"/>
<text x="1908.30" y="850.50" font-size="20.4" text-anchor="end">3</text>
<rect x="1863.2" y="862.10" width="17.7" height="17.4" fill="#3bc4f2" stroke="#b9a9a9" stroke-width="0.5"/>
<text x="1908.30" y="875.70" font-size="20.4" text-anchor="end">2</text>
<rect x="1863.2" y="887.30" width="17.7" height="17.4" fill="#b09dcd" stroke="#b9a9a9" stroke-width="0.5"/>
<text x="1908.30" y="900.90" font-size="20.4" text-anchor="end">1</text>
</g>
</svg>
</body></html>
